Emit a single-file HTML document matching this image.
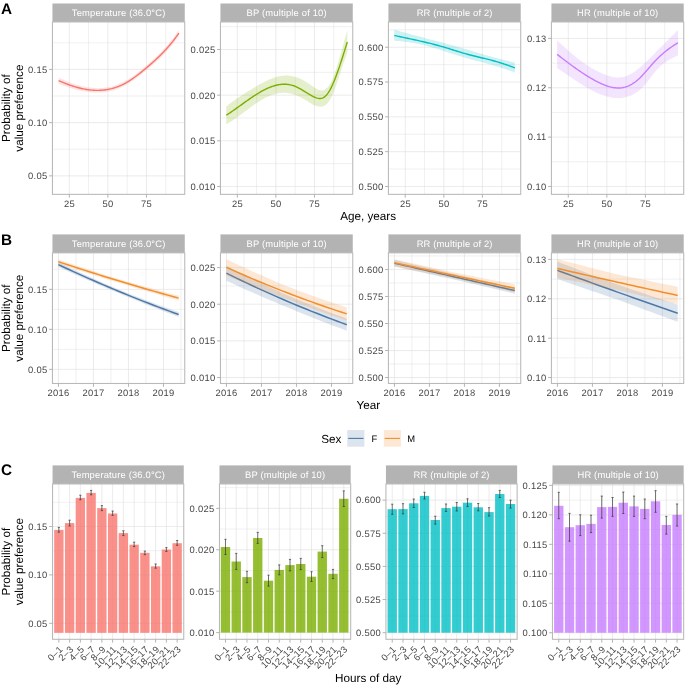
<!DOCTYPE html>
<html><head><meta charset="utf-8"><title>Figure</title>
<style>html,body{margin:0;padding:0;background:#fff;}svg{display:block;}#w{will-change:transform;width:685px;height:686px;}text{font-family:"Liberation Sans",sans-serif;}</style>
</head><body><div id="w">
<svg width="685" height="686" viewBox="0 0 685 686" font-family="Liberation Sans, sans-serif" text-rendering="geometricPrecision">
<rect width="685" height="686" fill="#fff"/>
<rect x="52.45" y="3.5" width="132.3" height="18.45" fill="#b3b3b3"/>
<text x="118.69" y="16" font-size="9.4" fill="#fff" text-anchor="middle" letter-spacing="0.17">Temperature (36.0°C)</text>
<clipPath id="cA0"><rect x="52.45" y="21.95" width="132.3" height="172.39"/></clipPath>
<g clip-path="url(#cA0)">
<line x1="52.45" y1="149.25" x2="184.75" y2="149.25" stroke="#dedede" stroke-width="0.45"/>
<line x1="52.45" y1="96.02" x2="184.75" y2="96.02" stroke="#dedede" stroke-width="0.45"/>
<line x1="52.45" y1="42.79" x2="184.75" y2="42.79" stroke="#dedede" stroke-width="0.45"/>
<line x1="88.59" y1="21.95" x2="88.59" y2="194.34" stroke="#dedede" stroke-width="0.45"/>
<line x1="127.16" y1="21.95" x2="127.16" y2="194.34" stroke="#dedede" stroke-width="0.45"/>
<line x1="165.74" y1="21.95" x2="165.74" y2="194.34" stroke="#dedede" stroke-width="0.45"/>
<line x1="52.45" y1="175.86" x2="184.75" y2="175.86" stroke="#dedede" stroke-width="0.62"/>
<line x1="52.45" y1="122.63" x2="184.75" y2="122.63" stroke="#dedede" stroke-width="0.62"/>
<line x1="52.45" y1="69.4" x2="184.75" y2="69.4" stroke="#dedede" stroke-width="0.62"/>
<line x1="69.3" y1="21.95" x2="69.3" y2="194.34" stroke="#dedede" stroke-width="0.62"/>
<line x1="107.88" y1="21.95" x2="107.88" y2="194.34" stroke="#dedede" stroke-width="0.62"/>
<line x1="146.45" y1="21.95" x2="146.45" y2="194.34" stroke="#dedede" stroke-width="0.62"/>
<path d="M58.6,77.5L59.6,77.97L60.6,78.44L61.6,78.9L62.6,79.35L63.6,79.79L64.6,80.23L65.6,80.66L66.6,81.08L67.6,81.49L68.6,81.89L69.6,82.29L70.6,82.67L71.6,83.05L72.6,83.41L73.6,83.77L74.6,84.11L75.6,84.43L76.6,84.73L77.6,85.02L78.6,85.3L79.6,85.57L80.6,85.82L81.6,86.06L82.6,86.3L83.6,86.51L84.6,86.72L85.6,86.91L86.6,87.09L87.6,87.26L88.6,87.41L89.6,87.55L90.6,87.67L91.6,87.78L92.6,87.88L93.6,87.96L94.6,88.02L95.6,88.07L96.6,88.11L97.6,88.13L98.6,88.13L99.6,88.11L100.6,88.07L101.6,88.01L102.6,87.94L103.6,87.84L104.6,87.73L105.6,87.6L106.6,87.45L107.6,87.28L108.6,87.1L109.6,86.89L110.6,86.67L111.6,86.43L112.6,86.16L113.6,85.88L114.6,85.58L115.6,85.25L116.6,84.91L117.6,84.54L118.6,84.16L119.6,83.75L120.6,83.32L121.6,82.87L122.6,82.39L123.6,81.9L124.6,81.38L125.6,80.84L126.6,80.27L127.6,79.69L128.6,79.08L129.6,78.45L130.6,77.8L131.6,77.14L132.6,76.46L133.6,75.76L134.6,75.04L135.6,74.31L136.6,73.56L137.6,72.81L138.6,72.03L139.6,71.25L140.6,70.45L141.6,69.62L142.6,68.79L143.6,67.95L144.6,67.11L145.6,66.25L146.6,65.39L147.6,64.52L148.6,63.65L149.6,62.77L150.6,61.88L151.6,60.99L152.6,60.08L153.6,59.16L154.6,58.24L155.6,57.3L156.6,56.36L157.6,55.4L158.6,54.42L159.6,53.44L160.6,52.43L161.6,51.42L162.6,50.38L163.6,49.33L164.6,48.25L165.6,47.15L166.6,46.03L167.6,44.88L168.6,43.71L169.6,42.51L170.6,41.29L171.6,40.04L172.6,38.76L173.6,37.46L174.6,36.13L175.6,34.76L176.6,33.37L177.6,31.94L178.6,30.48L178.9,30.04L178.9,36.04L178.6,36.47L177.6,37.87L176.6,39.24L175.6,40.57L174.6,41.88L173.6,43.15L172.6,44.4L171.6,45.62L170.6,46.81L169.6,47.97L168.6,49.11L167.6,50.23L166.6,51.32L165.6,52.39L164.6,53.44L163.6,54.48L162.6,55.5L161.6,56.51L160.6,57.49L159.6,58.46L158.6,59.42L157.6,60.36L156.6,61.29L155.6,62.2L154.6,63.11L153.6,64L152.6,64.88L151.6,65.76L150.6,66.62L149.6,67.48L148.6,68.33L147.6,69.17L146.6,70L145.6,70.83L144.6,71.65L143.6,72.47L142.6,73.28L141.6,74.08L140.6,74.86L139.6,75.65L138.6,76.43L137.6,77.21L136.6,77.96L135.6,78.71L134.6,79.44L133.6,80.16L132.6,80.86L131.6,81.54L130.6,82.2L129.6,82.85L128.6,83.48L127.6,84.09L126.6,84.67L125.6,85.24L124.6,85.78L123.6,86.3L122.6,86.79L121.6,87.27L120.6,87.72L119.6,88.15L118.6,88.56L117.6,88.94L116.6,89.31L115.6,89.65L114.6,89.98L113.6,90.28L112.6,90.56L111.6,90.83L110.6,91.07L109.6,91.29L108.6,91.5L107.6,91.68L106.6,91.85L105.6,92L104.6,92.13L103.6,92.24L102.6,92.34L101.6,92.41L100.6,92.47L99.6,92.52L98.6,92.56L97.6,92.58L96.6,92.59L95.6,92.58L94.6,92.55L93.6,92.51L92.6,92.46L91.6,92.38L90.6,92.3L89.6,92.2L88.6,92.08L87.6,91.96L86.6,91.81L85.6,91.66L84.6,91.49L83.6,91.31L82.6,91.11L81.6,90.91L80.6,90.69L79.6,90.46L78.6,90.21L77.6,89.96L76.6,89.69L75.6,89.42L74.6,89.14L73.6,88.87L72.6,88.59L71.6,88.29L70.6,87.99L69.6,87.68L68.6,87.36L67.6,87.03L66.6,86.69L65.6,86.34L64.6,85.99L63.6,85.63L62.6,85.26L61.6,84.88L60.6,84.49L59.6,84.1L58.6,83.7Z" fill="#F8766D" fill-opacity="0.2"/>
<path d="M58.6,80.6L59.6,81.04L60.6,81.47L61.6,81.89L62.6,82.3L63.6,82.71L64.6,83.11L65.6,83.5L66.6,83.88L67.6,84.26L68.6,84.63L69.6,84.98L70.6,85.33L71.6,85.67L72.6,86L73.6,86.32L74.6,86.63L75.6,86.93L76.6,87.21L77.6,87.49L78.6,87.76L79.6,88.01L80.6,88.25L81.6,88.49L82.6,88.7L83.6,88.91L84.6,89.1L85.6,89.28L86.6,89.45L87.6,89.61L88.6,89.75L89.6,89.87L90.6,89.99L91.6,90.08L92.6,90.17L93.6,90.24L94.6,90.29L95.6,90.33L96.6,90.35L97.6,90.35L98.6,90.34L99.6,90.32L100.6,90.27L101.6,90.21L102.6,90.14L103.6,90.04L104.6,89.93L105.6,89.8L106.6,89.65L107.6,89.48L108.6,89.3L109.6,89.09L110.6,88.87L111.6,88.63L112.6,88.36L113.6,88.08L114.6,87.78L115.6,87.45L116.6,87.11L117.6,86.74L118.6,86.36L119.6,85.95L120.6,85.52L121.6,85.07L122.6,84.59L123.6,84.1L124.6,83.58L125.6,83.04L126.6,82.47L127.6,81.89L128.6,81.28L129.6,80.65L130.6,80L131.6,79.34L132.6,78.66L133.6,77.96L134.6,77.24L135.6,76.51L136.6,75.76L137.6,75.01L138.6,74.23L139.6,73.45L140.6,72.65L141.6,71.85L142.6,71.03L143.6,70.21L144.6,69.38L145.6,68.54L146.6,67.7L147.6,66.85L148.6,65.99L149.6,65.12L150.6,64.25L151.6,63.37L152.6,62.48L153.6,61.58L154.6,60.67L155.6,59.75L156.6,58.82L157.6,57.88L158.6,56.92L159.6,55.95L160.6,54.96L161.6,53.96L162.6,52.94L163.6,51.91L164.6,50.85L165.6,49.77L166.6,48.67L167.6,47.55L168.6,46.41L169.6,45.24L170.6,44.05L171.6,42.83L172.6,41.58L173.6,40.31L174.6,39L175.6,37.67L176.6,36.3L177.6,34.91L178.6,33.48L178.9,33.04" fill="none" stroke="#F8766D" stroke-width="1.4" stroke-linejoin="round"/>
</g>
<rect x="52.45" y="21.95" width="132.3" height="172.39" fill="none" stroke="#b9b9b9" stroke-width="1.07"/>
<line x1="49.15" y1="175.86" x2="52.45" y2="175.86" stroke="#b3b3b3" stroke-width="1.0"/>
<text x="47.51" y="179.21" font-size="9.4" fill="#464646" text-anchor="end" letter-spacing="0.3">0.05</text>
<line x1="49.15" y1="122.63" x2="52.45" y2="122.63" stroke="#b3b3b3" stroke-width="1.0"/>
<text x="47.51" y="125.98" font-size="9.4" fill="#464646" text-anchor="end" letter-spacing="0.3">0.10</text>
<line x1="49.15" y1="69.4" x2="52.45" y2="69.4" stroke="#b3b3b3" stroke-width="1.0"/>
<text x="47.51" y="72.75" font-size="9.4" fill="#464646" text-anchor="end" letter-spacing="0.3">0.15</text>
<line x1="69.3" y1="194.34" x2="69.3" y2="197.64" stroke="#b3b3b3" stroke-width="1.0"/>
<text x="69.45" y="206.64" font-size="9.4" fill="#464646" text-anchor="middle" letter-spacing="0.3">25</text>
<line x1="107.88" y1="194.34" x2="107.88" y2="197.64" stroke="#b3b3b3" stroke-width="1.0"/>
<text x="108.03" y="206.64" font-size="9.4" fill="#464646" text-anchor="middle" letter-spacing="0.3">50</text>
<line x1="146.45" y1="194.34" x2="146.45" y2="197.64" stroke="#b3b3b3" stroke-width="1.0"/>
<text x="146.6" y="206.64" font-size="9.4" fill="#464646" text-anchor="middle" letter-spacing="0.3">75</text>
<rect x="220.45" y="3.5" width="132.3" height="18.45" fill="#b3b3b3"/>
<text x="286.69" y="16" font-size="9.4" fill="#fff" text-anchor="middle" letter-spacing="0.17">BP (multiple of 10)</text>
<clipPath id="cA1"><rect x="220.45" y="21.95" width="132.3" height="172.39"/></clipPath>
<g clip-path="url(#cA1)">
<line x1="220.45" y1="163.64" x2="352.75" y2="163.64" stroke="#dedede" stroke-width="0.45"/>
<line x1="220.45" y1="117.98" x2="352.75" y2="117.98" stroke="#dedede" stroke-width="0.45"/>
<line x1="220.45" y1="72.32" x2="352.75" y2="72.32" stroke="#dedede" stroke-width="0.45"/>
<line x1="220.45" y1="26.66" x2="352.75" y2="26.66" stroke="#dedede" stroke-width="0.45"/>
<line x1="256.59" y1="21.95" x2="256.59" y2="194.34" stroke="#dedede" stroke-width="0.45"/>
<line x1="295.16" y1="21.95" x2="295.16" y2="194.34" stroke="#dedede" stroke-width="0.45"/>
<line x1="333.74" y1="21.95" x2="333.74" y2="194.34" stroke="#dedede" stroke-width="0.45"/>
<line x1="220.45" y1="186.47" x2="352.75" y2="186.47" stroke="#dedede" stroke-width="0.62"/>
<line x1="220.45" y1="140.81" x2="352.75" y2="140.81" stroke="#dedede" stroke-width="0.62"/>
<line x1="220.45" y1="95.15" x2="352.75" y2="95.15" stroke="#dedede" stroke-width="0.62"/>
<line x1="220.45" y1="49.49" x2="352.75" y2="49.49" stroke="#dedede" stroke-width="0.62"/>
<line x1="237.3" y1="21.95" x2="237.3" y2="194.34" stroke="#dedede" stroke-width="0.62"/>
<line x1="275.88" y1="21.95" x2="275.88" y2="194.34" stroke="#dedede" stroke-width="0.62"/>
<line x1="314.45" y1="21.95" x2="314.45" y2="194.34" stroke="#dedede" stroke-width="0.62"/>
<path d="M226.3,106.41L227.3,105.63L228.3,104.86L229.3,104.1L230.3,103.35L231.3,102.6L232.3,101.87L233.3,101.14L234.3,100.42L235.3,99.71L236.3,99L237.3,98.31L238.3,97.62L239.3,96.94L240.3,96.26L241.3,95.59L242.3,94.93L243.3,94.28L244.3,93.63L245.3,92.99L246.3,92.36L247.3,91.73L248.3,91.1L249.3,90.49L250.3,89.88L251.3,89.27L252.3,88.67L253.3,88.07L254.3,87.48L255.3,86.9L256.3,86.32L257.3,85.74L258.3,85.17L259.3,84.61L260.3,84.05L261.3,83.51L262.3,82.97L263.3,82.44L264.3,81.92L265.3,81.42L266.3,80.93L267.3,80.45L268.3,79.99L269.3,79.55L270.3,79.12L271.3,78.71L272.3,78.32L273.3,77.96L274.3,77.61L275.3,77.29L276.3,76.99L277.3,76.72L278.3,76.47L279.3,76.25L280.3,76.05L281.3,75.89L282.3,75.76L283.3,75.65L284.3,75.58L285.3,75.54L286.3,75.54L287.3,75.56L288.3,75.62L289.3,75.71L290.3,75.83L291.3,75.99L292.3,76.17L293.3,76.39L294.3,76.64L295.3,76.92L296.3,77.23L297.3,77.57L298.3,77.95L299.3,78.36L300.3,78.8L301.3,79.27L302.3,79.77L303.3,80.3L304.3,80.87L305.3,81.46L306.3,82.09L307.3,82.74L308.3,83.4L309.3,84.08L310.3,84.76L311.3,85.44L312.3,86.12L313.3,86.79L314.3,87.45L315.3,88.08L316.3,88.67L317.3,89.21L318.3,89.68L319.3,90.05L320.3,90.31L321.3,90.44L322.3,90.42L323.3,90.24L324.3,89.89L325.3,89.35L326.3,88.62L327.3,87.67L328.3,86.51L329.3,85.11L330.3,83.46L331.3,81.55L332.3,79.39L333.3,76.99L334.3,74.38L335.3,71.56L336.3,68.58L337.3,65.44L338.3,62.16L339.3,58.78L340.3,55.3L341.3,51.75L342.3,48.14L343.3,44.51L344.3,40.87L345.3,37.24L346.3,33.64L347.3,30.09L347.3,53.18L346.3,55.62L345.3,58.23L344.3,60.99L343.3,63.87L342.3,66.85L341.3,69.89L340.3,72.96L339.3,76.04L338.3,79.1L337.3,82.11L336.3,85.04L335.3,87.86L334.3,90.55L333.3,93.07L332.3,95.39L331.3,97.5L330.3,99.35L329.3,100.96L328.3,102.32L327.3,103.47L326.3,104.41L325.3,105.16L324.3,105.74L323.3,106.16L322.3,106.45L321.3,106.6L320.3,106.65L319.3,106.6L318.3,106.46L317.3,106.24L316.3,105.94L315.3,105.57L314.3,105.14L313.3,104.66L312.3,104.14L311.3,103.58L310.3,102.99L309.3,102.38L308.3,101.75L307.3,101.12L306.3,100.5L305.3,99.88L304.3,99.28L303.3,98.71L302.3,98.15L301.3,97.62L300.3,97.12L299.3,96.64L298.3,96.19L297.3,95.76L296.3,95.36L295.3,94.98L294.3,94.64L293.3,94.32L292.3,94.03L291.3,93.77L290.3,93.54L289.3,93.34L288.3,93.17L287.3,93.03L286.3,92.93L285.3,92.86L284.3,92.82L283.3,92.81L282.3,92.84L281.3,92.9L280.3,92.99L279.3,93.12L278.3,93.28L277.3,93.47L276.3,93.68L275.3,93.93L274.3,94.21L273.3,94.51L272.3,94.84L271.3,95.2L270.3,95.58L269.3,95.98L268.3,96.42L267.3,96.87L266.3,97.35L265.3,97.85L264.3,98.37L263.3,98.91L262.3,99.47L261.3,100.05L260.3,100.65L259.3,101.26L258.3,101.9L257.3,102.55L256.3,103.21L255.3,103.89L254.3,104.58L253.3,105.29L252.3,106.01L251.3,106.73L250.3,107.46L249.3,108.21L248.3,108.95L247.3,109.7L246.3,110.46L245.3,111.22L244.3,111.97L243.3,112.73L242.3,113.49L241.3,114.24L240.3,114.99L239.3,115.73L238.3,116.47L237.3,117.19L236.3,117.91L235.3,118.62L234.3,119.32L233.3,120L232.3,120.67L231.3,121.32L230.3,121.96L229.3,122.58L228.3,123.18L227.3,123.76L226.3,124.31Z" fill="#7CAE00" fill-opacity="0.2"/>
<path d="M226.3,115.23L227.3,114.58L228.3,113.93L229.3,113.26L230.3,112.59L231.3,111.91L232.3,111.22L233.3,110.52L234.3,109.82L235.3,109.11L236.3,108.4L237.3,107.69L238.3,106.97L239.3,106.25L240.3,105.53L241.3,104.81L242.3,104.09L243.3,103.37L244.3,102.66L245.3,101.94L246.3,101.23L247.3,100.52L248.3,99.82L249.3,99.12L250.3,98.43L251.3,97.75L252.3,97.07L253.3,96.41L254.3,95.75L255.3,95.1L256.3,94.47L257.3,93.84L258.3,93.23L259.3,92.63L260.3,92.05L261.3,91.48L262.3,90.93L263.3,90.39L264.3,89.87L265.3,89.37L266.3,88.88L267.3,88.42L268.3,87.98L269.3,87.55L270.3,87.15L271.3,86.77L272.3,86.42L273.3,86.08L274.3,85.78L275.3,85.49L276.3,85.24L277.3,85.01L278.3,84.81L279.3,84.64L280.3,84.5L281.3,84.38L282.3,84.3L283.3,84.25L284.3,84.23L285.3,84.25L286.3,84.3L287.3,84.38L288.3,84.5L289.3,84.66L290.3,84.85L291.3,85.08L292.3,85.35L293.3,85.66L294.3,86L295.3,86.39L296.3,86.82L297.3,87.29L298.3,87.79L299.3,88.32L300.3,88.88L301.3,89.46L302.3,90.06L303.3,90.67L304.3,91.28L305.3,91.91L306.3,92.53L307.3,93.15L308.3,93.75L309.3,94.35L310.3,94.93L311.3,95.49L312.3,96.02L313.3,96.53L314.3,97L315.3,97.43L316.3,97.81L317.3,98.12L318.3,98.35L319.3,98.48L320.3,98.5L321.3,98.39L322.3,98.12L323.3,97.7L324.3,97.1L325.3,96.31L326.3,95.31L327.3,94.1L328.3,92.69L329.3,91.1L330.3,89.33L331.3,87.39L332.3,85.3L333.3,83.06L334.3,80.69L335.3,78.18L336.3,75.56L337.3,72.84L338.3,70.01L339.3,67.11L340.3,64.12L341.3,61.07L342.3,57.96L343.3,54.81L344.3,51.62L345.3,48.4L346.3,45.17L347.3,41.93" fill="none" stroke="#7CAE00" stroke-width="1.4" stroke-linejoin="round"/>
</g>
<rect x="220.45" y="21.95" width="132.3" height="172.39" fill="none" stroke="#b9b9b9" stroke-width="1.07"/>
<line x1="217.15" y1="186.47" x2="220.45" y2="186.47" stroke="#b3b3b3" stroke-width="1.0"/>
<text x="215.51" y="189.82" font-size="9.4" fill="#464646" text-anchor="end" letter-spacing="0.3">0.010</text>
<line x1="217.15" y1="140.81" x2="220.45" y2="140.81" stroke="#b3b3b3" stroke-width="1.0"/>
<text x="215.51" y="144.16" font-size="9.4" fill="#464646" text-anchor="end" letter-spacing="0.3">0.015</text>
<line x1="217.15" y1="95.15" x2="220.45" y2="95.15" stroke="#b3b3b3" stroke-width="1.0"/>
<text x="215.51" y="98.5" font-size="9.4" fill="#464646" text-anchor="end" letter-spacing="0.3">0.020</text>
<line x1="217.15" y1="49.49" x2="220.45" y2="49.49" stroke="#b3b3b3" stroke-width="1.0"/>
<text x="215.51" y="52.84" font-size="9.4" fill="#464646" text-anchor="end" letter-spacing="0.3">0.025</text>
<line x1="237.3" y1="194.34" x2="237.3" y2="197.64" stroke="#b3b3b3" stroke-width="1.0"/>
<text x="237.45" y="206.64" font-size="9.4" fill="#464646" text-anchor="middle" letter-spacing="0.3">25</text>
<line x1="275.88" y1="194.34" x2="275.88" y2="197.64" stroke="#b3b3b3" stroke-width="1.0"/>
<text x="276.02" y="206.64" font-size="9.4" fill="#464646" text-anchor="middle" letter-spacing="0.3">50</text>
<line x1="314.45" y1="194.34" x2="314.45" y2="197.64" stroke="#b3b3b3" stroke-width="1.0"/>
<text x="314.6" y="206.64" font-size="9.4" fill="#464646" text-anchor="middle" letter-spacing="0.3">75</text>
<rect x="388.42" y="3.5" width="132.3" height="18.45" fill="#b3b3b3"/>
<text x="454.66" y="16" font-size="9.4" fill="#fff" text-anchor="middle" letter-spacing="0.17">RR (multiple of 2)</text>
<clipPath id="cA2"><rect x="388.42" y="21.95" width="132.3" height="172.39"/></clipPath>
<g clip-path="url(#cA2)">
<line x1="388.42" y1="169.06" x2="520.72" y2="169.06" stroke="#dedede" stroke-width="0.45"/>
<line x1="388.42" y1="134.25" x2="520.72" y2="134.25" stroke="#dedede" stroke-width="0.45"/>
<line x1="388.42" y1="99.44" x2="520.72" y2="99.44" stroke="#dedede" stroke-width="0.45"/>
<line x1="388.42" y1="64.63" x2="520.72" y2="64.63" stroke="#dedede" stroke-width="0.45"/>
<line x1="388.42" y1="29.81" x2="520.72" y2="29.81" stroke="#dedede" stroke-width="0.45"/>
<line x1="424.56" y1="21.95" x2="424.56" y2="194.34" stroke="#dedede" stroke-width="0.45"/>
<line x1="463.13" y1="21.95" x2="463.13" y2="194.34" stroke="#dedede" stroke-width="0.45"/>
<line x1="501.71" y1="21.95" x2="501.71" y2="194.34" stroke="#dedede" stroke-width="0.45"/>
<line x1="388.42" y1="186.47" x2="520.72" y2="186.47" stroke="#dedede" stroke-width="0.62"/>
<line x1="388.42" y1="151.66" x2="520.72" y2="151.66" stroke="#dedede" stroke-width="0.62"/>
<line x1="388.42" y1="116.84" x2="520.72" y2="116.84" stroke="#dedede" stroke-width="0.62"/>
<line x1="388.42" y1="82.03" x2="520.72" y2="82.03" stroke="#dedede" stroke-width="0.62"/>
<line x1="388.42" y1="47.22" x2="520.72" y2="47.22" stroke="#dedede" stroke-width="0.62"/>
<line x1="405.27" y1="21.95" x2="405.27" y2="194.34" stroke="#dedede" stroke-width="0.62"/>
<line x1="443.85" y1="21.95" x2="443.85" y2="194.34" stroke="#dedede" stroke-width="0.62"/>
<line x1="482.42" y1="21.95" x2="482.42" y2="194.34" stroke="#dedede" stroke-width="0.62"/>
<path d="M394.3,29.77L395.3,30.04L396.3,30.31L397.3,30.58L398.3,30.85L399.3,31.12L400.3,31.39L401.3,31.67L402.3,31.94L403.3,32.21L404.3,32.48L405.3,32.75L406.3,33.03L407.3,33.3L408.3,33.57L409.3,33.84L410.3,34.12L411.3,34.39L412.3,34.66L413.3,34.93L414.3,35.2L415.3,35.47L416.3,35.74L417.3,36.01L418.3,36.28L419.3,36.55L420.3,36.81L421.3,37.08L422.3,37.34L423.3,37.61L424.3,37.87L425.3,38.14L426.3,38.4L427.3,38.66L428.3,38.92L429.3,39.18L430.3,39.44L431.3,39.7L432.3,39.96L433.3,40.22L434.3,40.48L435.3,40.74L436.3,41L437.3,41.26L438.3,41.52L439.3,41.78L440.3,42.04L441.3,42.3L442.3,42.56L443.3,42.83L444.3,43.09L445.3,43.36L446.3,43.63L447.3,43.9L448.3,44.17L449.3,44.44L450.3,44.72L451.3,45L452.3,45.28L453.3,45.56L454.3,45.84L455.3,46.12L456.3,46.41L457.3,46.69L458.3,46.98L459.3,47.27L460.3,47.56L461.3,47.85L462.3,48.15L463.3,48.44L464.3,48.73L465.3,49.03L466.3,49.32L467.3,49.62L468.3,49.91L469.3,50.21L470.3,50.51L471.3,50.8L472.3,51.1L473.3,51.4L474.3,51.7L475.3,51.99L476.3,52.29L477.3,52.58L478.3,52.88L479.3,53.18L480.3,53.47L481.3,53.76L482.3,54.06L483.3,54.35L484.3,54.64L485.3,54.93L486.3,55.22L487.3,55.51L488.3,55.79L489.3,56.08L490.3,56.36L491.3,56.64L492.3,56.92L493.3,57.2L494.3,57.48L495.3,57.75L496.3,58.02L497.3,58.29L498.3,58.56L499.3,58.83L500.3,59.09L501.3,59.35L502.3,59.61L503.3,59.86L504.3,60.12L505.3,60.37L506.3,60.61L507.3,60.86L508.3,61.1L509.3,61.34L510.3,61.57L511.3,61.8L512.3,62.03L513.3,62.25L514.3,62.47L514.9,62.6L514.9,72.66L514.3,72.41L513.3,72.01L512.3,71.62L511.3,71.24L510.3,70.86L509.3,70.49L508.3,70.13L507.3,69.77L506.3,69.42L505.3,69.08L504.3,68.74L503.3,68.41L502.3,68.08L501.3,67.76L500.3,67.44L499.3,67.13L498.3,66.83L497.3,66.52L496.3,66.22L495.3,65.93L494.3,65.64L493.3,65.35L492.3,65.07L491.3,64.78L490.3,64.51L489.3,64.23L488.3,63.96L487.3,63.68L486.3,63.41L485.3,63.14L484.3,62.88L483.3,62.61L482.3,62.35L481.3,62.08L480.3,61.82L479.3,61.55L478.3,61.29L477.3,61.02L476.3,60.76L475.3,60.49L474.3,60.23L473.3,59.96L472.3,59.69L471.3,59.42L470.3,59.14L469.3,58.87L468.3,58.59L467.3,58.31L466.3,58.03L465.3,57.74L464.3,57.45L463.3,57.16L462.3,56.86L461.3,56.56L460.3,56.26L459.3,55.95L458.3,55.64L457.3,55.33L456.3,55.01L455.3,54.7L454.3,54.38L453.3,54.06L452.3,53.74L451.3,53.42L450.3,53.1L449.3,52.77L448.3,52.45L447.3,52.13L446.3,51.81L445.3,51.48L444.3,51.16L443.3,50.84L442.3,50.52L441.3,50.21L440.3,49.89L439.3,49.58L438.3,49.27L437.3,48.96L436.3,48.66L435.3,48.35L434.3,48.06L433.3,47.76L432.3,47.47L431.3,47.18L430.3,46.9L429.3,46.62L428.3,46.35L427.3,46.08L426.3,45.82L425.3,45.57L424.3,45.32L423.3,45.07L422.3,44.83L421.3,44.6L420.3,44.38L419.3,44.16L418.3,43.95L417.3,43.74L416.3,43.54L415.3,43.35L414.3,43.16L413.3,42.98L412.3,42.8L411.3,42.63L410.3,42.47L409.3,42.32L408.3,42.17L407.3,42.03L406.3,41.89L405.3,41.76L404.3,41.64L403.3,41.52L402.3,41.41L401.3,41.31L400.3,41.21L399.3,41.12L398.3,41.04L397.3,40.97L396.3,40.9L395.3,40.83L394.3,40.78Z" fill="#00BFC4" fill-opacity="0.2"/>
<path d="M394.3,35.45L395.3,35.67L396.3,35.89L397.3,36.11L398.3,36.33L399.3,36.54L400.3,36.76L401.3,36.97L402.3,37.18L403.3,37.4L404.3,37.61L405.3,37.82L406.3,38.04L407.3,38.25L408.3,38.46L409.3,38.68L410.3,38.89L411.3,39.11L412.3,39.32L413.3,39.54L414.3,39.76L415.3,39.97L416.3,40.19L417.3,40.41L418.3,40.63L419.3,40.86L420.3,41.08L421.3,41.31L422.3,41.54L423.3,41.77L424.3,42L425.3,42.23L426.3,42.47L427.3,42.71L428.3,42.95L429.3,43.19L430.3,43.44L431.3,43.69L432.3,43.94L433.3,44.2L434.3,44.45L435.3,44.72L436.3,44.98L437.3,45.25L438.3,45.52L439.3,45.8L440.3,46.08L441.3,46.36L442.3,46.65L443.3,46.94L444.3,47.23L445.3,47.53L446.3,47.84L447.3,48.14L448.3,48.45L449.3,48.77L450.3,49.08L451.3,49.39L452.3,49.71L453.3,50.03L454.3,50.34L455.3,50.66L456.3,50.97L457.3,51.28L458.3,51.59L459.3,51.9L460.3,52.2L461.3,52.5L462.3,52.8L463.3,53.09L464.3,53.38L465.3,53.66L466.3,53.94L467.3,54.21L468.3,54.48L469.3,54.74L470.3,55L471.3,55.26L472.3,55.52L473.3,55.77L474.3,56.02L475.3,56.26L476.3,56.51L477.3,56.75L478.3,57L479.3,57.24L480.3,57.48L481.3,57.72L482.3,57.96L483.3,58.2L484.3,58.44L485.3,58.69L486.3,58.93L487.3,59.18L488.3,59.42L489.3,59.68L490.3,59.93L491.3,60.19L492.3,60.46L493.3,60.72L494.3,61L495.3,61.28L496.3,61.57L497.3,61.86L498.3,62.16L499.3,62.46L500.3,62.77L501.3,63.08L502.3,63.4L503.3,63.73L504.3,64.06L505.3,64.4L506.3,64.74L507.3,65.09L508.3,65.45L509.3,65.81L510.3,66.18L511.3,66.55L512.3,66.93L513.3,67.31L514.3,67.71L514.9,67.94" fill="none" stroke="#00BFC4" stroke-width="1.4" stroke-linejoin="round"/>
</g>
<rect x="388.42" y="21.95" width="132.3" height="172.39" fill="none" stroke="#b9b9b9" stroke-width="1.07"/>
<line x1="385.12" y1="186.47" x2="388.42" y2="186.47" stroke="#b3b3b3" stroke-width="1.0"/>
<text x="383.48" y="189.82" font-size="9.4" fill="#464646" text-anchor="end" letter-spacing="0.3">0.500</text>
<line x1="385.12" y1="151.66" x2="388.42" y2="151.66" stroke="#b3b3b3" stroke-width="1.0"/>
<text x="383.48" y="155.01" font-size="9.4" fill="#464646" text-anchor="end" letter-spacing="0.3">0.525</text>
<line x1="385.12" y1="116.84" x2="388.42" y2="116.84" stroke="#b3b3b3" stroke-width="1.0"/>
<text x="383.48" y="120.19" font-size="9.4" fill="#464646" text-anchor="end" letter-spacing="0.3">0.550</text>
<line x1="385.12" y1="82.03" x2="388.42" y2="82.03" stroke="#b3b3b3" stroke-width="1.0"/>
<text x="383.48" y="85.38" font-size="9.4" fill="#464646" text-anchor="end" letter-spacing="0.3">0.575</text>
<line x1="385.12" y1="47.22" x2="388.42" y2="47.22" stroke="#b3b3b3" stroke-width="1.0"/>
<text x="383.48" y="50.57" font-size="9.4" fill="#464646" text-anchor="end" letter-spacing="0.3">0.600</text>
<line x1="405.27" y1="194.34" x2="405.27" y2="197.64" stroke="#b3b3b3" stroke-width="1.0"/>
<text x="405.42" y="206.64" font-size="9.4" fill="#464646" text-anchor="middle" letter-spacing="0.3">25</text>
<line x1="443.85" y1="194.34" x2="443.85" y2="197.64" stroke="#b3b3b3" stroke-width="1.0"/>
<text x="444" y="206.64" font-size="9.4" fill="#464646" text-anchor="middle" letter-spacing="0.3">50</text>
<line x1="482.42" y1="194.34" x2="482.42" y2="197.64" stroke="#b3b3b3" stroke-width="1.0"/>
<text x="482.57" y="206.64" font-size="9.4" fill="#464646" text-anchor="middle" letter-spacing="0.3">75</text>
<rect x="551.42" y="3.5" width="132.3" height="18.45" fill="#b3b3b3"/>
<text x="617.65" y="16" font-size="9.4" fill="#fff" text-anchor="middle" letter-spacing="0.17">HR (multiple of 10)</text>
<clipPath id="cA3"><rect x="551.42" y="21.95" width="132.3" height="172.39"/></clipPath>
<g clip-path="url(#cA3)">
<line x1="551.42" y1="161.8" x2="683.72" y2="161.8" stroke="#dedede" stroke-width="0.45"/>
<line x1="551.42" y1="112.45" x2="683.72" y2="112.45" stroke="#dedede" stroke-width="0.45"/>
<line x1="551.42" y1="63.1" x2="683.72" y2="63.1" stroke="#dedede" stroke-width="0.45"/>
<line x1="587.56" y1="21.95" x2="587.56" y2="194.34" stroke="#dedede" stroke-width="0.45"/>
<line x1="626.13" y1="21.95" x2="626.13" y2="194.34" stroke="#dedede" stroke-width="0.45"/>
<line x1="664.71" y1="21.95" x2="664.71" y2="194.34" stroke="#dedede" stroke-width="0.45"/>
<line x1="551.42" y1="186.47" x2="683.72" y2="186.47" stroke="#dedede" stroke-width="0.62"/>
<line x1="551.42" y1="137.12" x2="683.72" y2="137.12" stroke="#dedede" stroke-width="0.62"/>
<line x1="551.42" y1="87.77" x2="683.72" y2="87.77" stroke="#dedede" stroke-width="0.62"/>
<line x1="551.42" y1="38.42" x2="683.72" y2="38.42" stroke="#dedede" stroke-width="0.62"/>
<line x1="568.27" y1="21.95" x2="568.27" y2="194.34" stroke="#dedede" stroke-width="0.62"/>
<line x1="606.85" y1="21.95" x2="606.85" y2="194.34" stroke="#dedede" stroke-width="0.62"/>
<line x1="645.42" y1="21.95" x2="645.42" y2="194.34" stroke="#dedede" stroke-width="0.62"/>
<path d="M557.1,40.58L558.1,41.46L559.1,42.35L560.1,43.23L561.1,44.13L562.1,45.02L563.1,45.91L564.1,46.81L565.1,47.7L566.1,48.59L567.1,49.48L568.1,50.36L569.1,51.24L570.1,52.11L571.1,52.97L572.1,53.83L573.1,54.68L574.1,55.51L575.1,56.34L576.1,57.16L577.1,57.96L578.1,58.75L579.1,59.52L580.1,60.28L581.1,61.02L582.1,61.75L583.1,62.47L584.1,63.17L585.1,63.86L586.1,64.53L587.1,65.19L588.1,65.84L589.1,66.47L590.1,67.09L591.1,67.69L592.1,68.28L593.1,68.86L594.1,69.43L595.1,69.98L596.1,70.53L597.1,71.06L598.1,71.57L599.1,72.08L600.1,72.57L601.1,73.04L602.1,73.5L603.1,73.93L604.1,74.35L605.1,74.75L606.1,75.12L607.1,75.47L608.1,75.8L609.1,76.1L610.1,76.37L611.1,76.62L612.1,76.84L613.1,77.02L614.1,77.18L615.1,77.3L616.1,77.38L617.1,77.43L618.1,77.45L619.1,77.42L620.1,77.36L621.1,77.26L622.1,77.11L623.1,76.92L624.1,76.69L625.1,76.41L626.1,76.09L627.1,75.72L628.1,75.3L629.1,74.84L630.1,74.33L631.1,73.79L632.1,73.2L633.1,72.58L634.1,71.92L635.1,71.23L636.1,70.51L637.1,69.75L638.1,68.97L639.1,68.16L640.1,67.32L641.1,66.46L642.1,65.58L643.1,64.68L644.1,63.75L645.1,62.82L646.1,61.86L647.1,60.9L648.1,59.92L649.1,58.93L650.1,57.93L651.1,56.93L652.1,55.92L653.1,54.91L654.1,53.9L655.1,52.88L656.1,51.87L657.1,50.86L658.1,49.84L659.1,48.83L660.1,47.82L661.1,46.8L662.1,45.79L663.1,44.78L664.1,43.77L665.1,42.77L666.1,41.76L667.1,40.76L668.1,39.75L669.1,38.76L670.1,37.76L671.1,36.77L672.1,35.78L673.1,34.79L674.1,33.8L675.1,32.83L676.1,31.85L677.1,30.88L678,30.01L678,55.3L677.1,55.71L676.1,56.17L675.1,56.65L674.1,57.13L673.1,57.64L672.1,58.15L671.1,58.69L670.1,59.25L669.1,59.84L668.1,60.44L667.1,61.08L666.1,61.75L665.1,62.45L664.1,63.18L663.1,63.95L662.1,64.76L661.1,65.61L660.1,66.5L659.1,67.44L658.1,68.42L657.1,69.46L656.1,70.54L655.1,71.68L654.1,72.87L653.1,74.13L652.1,75.43L651.1,76.77L650.1,78.13L649.1,79.49L648.1,80.84L647.1,82.15L646.1,83.42L645.1,84.62L644.1,85.76L643.1,86.83L642.1,87.84L641.1,88.79L640.1,89.68L639.1,90.52L638.1,91.3L637.1,92.02L636.1,92.7L635.1,93.33L634.1,93.91L633.1,94.45L632.1,94.95L631.1,95.4L630.1,95.82L629.1,96.19L628.1,96.53L627.1,96.83L626.1,97.1L625.1,97.33L624.1,97.53L623.1,97.7L622.1,97.83L621.1,97.94L620.1,98.02L619.1,98.06L618.1,98.08L617.1,98.08L616.1,98.04L615.1,97.98L614.1,97.89L613.1,97.78L612.1,97.64L611.1,97.47L610.1,97.29L609.1,97.08L608.1,96.84L607.1,96.59L606.1,96.31L605.1,96.02L604.1,95.7L603.1,95.36L602.1,95L601.1,94.63L600.1,94.24L599.1,93.82L598.1,93.4L597.1,92.95L596.1,92.49L595.1,92.02L594.1,91.53L593.1,91.02L592.1,90.5L591.1,89.97L590.1,89.43L589.1,88.87L588.1,88.31L587.1,87.73L586.1,87.14L585.1,86.54L584.1,85.94L583.1,85.32L582.1,84.7L581.1,84.07L580.1,83.43L579.1,82.79L578.1,82.14L577.1,81.48L576.1,80.83L575.1,80.16L574.1,79.5L573.1,78.83L572.1,78.16L571.1,77.48L570.1,76.81L569.1,76.14L568.1,75.46L567.1,74.79L566.1,74.11L565.1,73.44L564.1,72.78L563.1,72.11L562.1,71.45L561.1,70.79L560.1,70.13L559.1,69.49L558.1,68.84L557.1,68.21Z" fill="#C77CFF" fill-opacity="0.2"/>
<path d="M557.1,54.34L558.1,55.12L559.1,55.9L560.1,56.67L561.1,57.44L562.1,58.21L563.1,58.98L564.1,59.75L565.1,60.51L566.1,61.26L567.1,62.02L568.1,62.77L569.1,63.51L570.1,64.26L571.1,64.99L572.1,65.72L573.1,66.45L574.1,67.17L575.1,67.89L576.1,68.6L577.1,69.3L578.1,70L579.1,70.68L580.1,71.37L581.1,72.04L582.1,72.71L583.1,73.37L584.1,74.02L585.1,74.66L586.1,75.3L587.1,75.92L588.1,76.54L589.1,77.14L590.1,77.74L591.1,78.33L592.1,78.9L593.1,79.47L594.1,80.03L595.1,80.57L596.1,81.1L597.1,81.63L598.1,82.13L599.1,82.63L600.1,83.11L601.1,83.58L602.1,84.03L603.1,84.46L604.1,84.87L605.1,85.27L606.1,85.64L607.1,85.99L608.1,86.31L609.1,86.61L610.1,86.89L611.1,87.13L612.1,87.35L613.1,87.54L614.1,87.7L615.1,87.82L616.1,87.92L617.1,87.98L618.1,88L619.1,87.99L620.1,87.93L621.1,87.84L622.1,87.71L623.1,87.54L624.1,87.33L625.1,87.07L626.1,86.77L627.1,86.42L628.1,86.03L629.1,85.58L630.1,85.1L631.1,84.57L632.1,83.99L633.1,83.36L634.1,82.7L635.1,81.98L636.1,81.22L637.1,80.41L638.1,79.56L639.1,78.66L640.1,77.72L641.1,76.73L642.1,75.7L643.1,74.63L644.1,73.53L645.1,72.4L646.1,71.26L647.1,70.1L648.1,68.93L649.1,67.76L650.1,66.59L651.1,65.43L652.1,64.29L653.1,63.17L654.1,62.07L655.1,61.01L656.1,59.97L657.1,58.95L658.1,57.97L659.1,57.01L660.1,56.07L661.1,55.16L662.1,54.27L663.1,53.41L664.1,52.57L665.1,51.75L666.1,50.95L667.1,50.17L668.1,49.4L669.1,48.66L670.1,47.94L671.1,47.23L672.1,46.54L673.1,45.86L674.1,45.2L675.1,44.56L676.1,43.93L677.1,43.31L678,42.76" fill="none" stroke="#C77CFF" stroke-width="1.4" stroke-linejoin="round"/>
</g>
<rect x="551.42" y="21.95" width="132.3" height="172.39" fill="none" stroke="#b9b9b9" stroke-width="1.07"/>
<line x1="548.12" y1="186.47" x2="551.42" y2="186.47" stroke="#b3b3b3" stroke-width="1.0"/>
<text x="546.48" y="189.82" font-size="9.4" fill="#464646" text-anchor="end" letter-spacing="0.3">0.10</text>
<line x1="548.12" y1="137.12" x2="551.42" y2="137.12" stroke="#b3b3b3" stroke-width="1.0"/>
<text x="546.48" y="140.47" font-size="9.4" fill="#464646" text-anchor="end" letter-spacing="0.3">0.11</text>
<line x1="548.12" y1="87.77" x2="551.42" y2="87.77" stroke="#b3b3b3" stroke-width="1.0"/>
<text x="546.48" y="91.12" font-size="9.4" fill="#464646" text-anchor="end" letter-spacing="0.3">0.12</text>
<line x1="548.12" y1="38.42" x2="551.42" y2="38.42" stroke="#b3b3b3" stroke-width="1.0"/>
<text x="546.48" y="41.77" font-size="9.4" fill="#464646" text-anchor="end" letter-spacing="0.3">0.13</text>
<line x1="568.27" y1="194.34" x2="568.27" y2="197.64" stroke="#b3b3b3" stroke-width="1.0"/>
<text x="568.42" y="206.64" font-size="9.4" fill="#464646" text-anchor="middle" letter-spacing="0.3">25</text>
<line x1="606.85" y1="194.34" x2="606.85" y2="197.64" stroke="#b3b3b3" stroke-width="1.0"/>
<text x="607" y="206.64" font-size="9.4" fill="#464646" text-anchor="middle" letter-spacing="0.3">50</text>
<line x1="645.42" y1="194.34" x2="645.42" y2="197.64" stroke="#b3b3b3" stroke-width="1.0"/>
<text x="645.57" y="206.64" font-size="9.4" fill="#464646" text-anchor="middle" letter-spacing="0.3">75</text>
<rect x="52.45" y="234.4" width="132.3" height="18.45" fill="#b3b3b3"/>
<text x="118.69" y="246.9" font-size="9.4" fill="#fff" text-anchor="middle" letter-spacing="0.17">Temperature (36.0°C)</text>
<clipPath id="cB0"><rect x="52.45" y="252.85" width="132.3" height="130.63"/></clipPath>
<g clip-path="url(#cB0)">
<line x1="52.45" y1="349.35" x2="184.75" y2="349.35" stroke="#dedede" stroke-width="0.45"/>
<line x1="52.45" y1="309.34" x2="184.75" y2="309.34" stroke="#dedede" stroke-width="0.45"/>
<line x1="52.45" y1="269.33" x2="184.75" y2="269.33" stroke="#dedede" stroke-width="0.45"/>
<line x1="75.95" y1="252.85" x2="75.95" y2="383.48" stroke="#dedede" stroke-width="0.45"/>
<line x1="110.95" y1="252.85" x2="110.95" y2="383.48" stroke="#dedede" stroke-width="0.45"/>
<line x1="145.95" y1="252.85" x2="145.95" y2="383.48" stroke="#dedede" stroke-width="0.45"/>
<line x1="180.95" y1="252.85" x2="180.95" y2="383.48" stroke="#dedede" stroke-width="0.45"/>
<line x1="52.45" y1="369.35" x2="184.75" y2="369.35" stroke="#dedede" stroke-width="0.62"/>
<line x1="52.45" y1="329.34" x2="184.75" y2="329.34" stroke="#dedede" stroke-width="0.62"/>
<line x1="52.45" y1="289.33" x2="184.75" y2="289.33" stroke="#dedede" stroke-width="0.62"/>
<line x1="58.45" y1="252.85" x2="58.45" y2="383.48" stroke="#dedede" stroke-width="0.62"/>
<line x1="93.45" y1="252.85" x2="93.45" y2="383.48" stroke="#dedede" stroke-width="0.62"/>
<line x1="128.45" y1="252.85" x2="128.45" y2="383.48" stroke="#dedede" stroke-width="0.62"/>
<line x1="163.45" y1="252.85" x2="163.45" y2="383.48" stroke="#dedede" stroke-width="0.62"/>
<path d="M58.4,262.3L63.41,264.69L68.42,267.06L73.43,269.4L78.44,271.72L83.45,274.01L88.46,276.29L93.47,278.53L98.48,280.76L103.49,282.96L108.5,285.14L113.51,287.3L118.53,289.43L123.54,291.45L128.55,293.44L133.56,295.41L138.57,297.36L143.58,299.28L148.59,301.18L153.6,303.06L158.61,304.92L163.62,306.75L168.63,308.56L173.64,310.34L178.65,312.1L178.65,316.9L173.64,315.04L168.63,313.16L163.62,311.25L158.61,309.32L153.6,307.36L148.59,305.38L143.58,303.38L138.57,301.36L133.56,299.31L128.55,297.24L123.54,295.15L118.53,293.03L113.51,290.98L108.5,288.91L103.49,286.81L98.48,284.69L93.47,282.55L88.46,280.39L83.45,278.2L78.44,275.98L73.43,273.75L68.42,271.49L63.41,269.21L58.4,266.9Z" fill="#4E79A7" fill-opacity="0.2"/>
<path d="M58.4,264.6L63.41,266.95L68.42,269.27L73.43,271.57L78.44,273.85L83.45,276.1L88.46,278.34L93.47,280.54L98.48,282.73L103.49,284.89L108.5,287.02L113.51,289.14L118.53,291.23L123.54,293.3L128.55,295.34L133.56,297.36L138.57,299.36L143.58,301.33L148.59,303.28L153.6,305.21L158.61,307.12L163.62,309L168.63,310.86L173.64,312.69L178.65,314.5" fill="none" stroke="#4E79A7" stroke-width="1.5"/>
<path d="M58.4,259.4L63.41,261.11L68.42,262.8L73.43,264.48L78.44,266.14L83.45,267.8L88.46,269.44L93.47,271.07L98.48,272.68L103.49,274.29L108.5,275.88L113.51,277.46L118.53,279.02L123.54,280.48L128.55,281.93L133.56,283.36L138.57,284.78L143.58,286.19L148.59,287.59L153.6,288.97L158.61,290.34L163.62,291.7L168.63,293.05L173.64,294.38L178.65,295.7L178.65,300.5L173.64,299.08L168.63,297.65L163.62,296.2L158.61,294.74L153.6,293.27L148.59,291.79L143.58,290.29L138.57,288.78L133.56,287.26L128.55,285.73L123.54,284.18L118.53,282.62L113.51,281.14L108.5,279.64L103.49,278.14L98.48,276.62L93.47,275.09L88.46,273.54L83.45,271.98L78.44,270.41L73.43,268.83L68.42,267.23L63.41,265.62L58.4,264Z" fill="#F28E2B" fill-opacity="0.2"/>
<path d="M58.4,261.7L63.41,263.36L68.42,265.01L73.43,266.65L78.44,268.28L83.45,269.89L88.46,271.49L93.47,273.08L98.48,274.65L103.49,276.21L108.5,277.76L113.51,279.3L118.53,280.82L123.54,282.33L128.55,283.83L133.56,285.31L138.57,286.78L143.58,288.24L148.59,289.69L153.6,291.12L158.61,292.54L163.62,293.95L168.63,295.35L173.64,296.73L178.65,298.1" fill="none" stroke="#F28E2B" stroke-width="1.5"/>
</g>
<rect x="52.45" y="252.85" width="132.3" height="130.63" fill="none" stroke="#b9b9b9" stroke-width="1.07"/>
<line x1="49.15" y1="369.35" x2="52.45" y2="369.35" stroke="#b3b3b3" stroke-width="1.0"/>
<text x="47.51" y="372.7" font-size="9.4" fill="#464646" text-anchor="end" letter-spacing="0.3">0.05</text>
<line x1="49.15" y1="329.34" x2="52.45" y2="329.34" stroke="#b3b3b3" stroke-width="1.0"/>
<text x="47.51" y="332.69" font-size="9.4" fill="#464646" text-anchor="end" letter-spacing="0.3">0.10</text>
<line x1="49.15" y1="289.33" x2="52.45" y2="289.33" stroke="#b3b3b3" stroke-width="1.0"/>
<text x="47.51" y="292.68" font-size="9.4" fill="#464646" text-anchor="end" letter-spacing="0.3">0.15</text>
<line x1="58.45" y1="383.48" x2="58.45" y2="386.78" stroke="#b3b3b3" stroke-width="1.0"/>
<text x="58.6" y="395.78" font-size="9.4" fill="#464646" text-anchor="middle" letter-spacing="0.3">2016</text>
<line x1="93.45" y1="383.48" x2="93.45" y2="386.78" stroke="#b3b3b3" stroke-width="1.0"/>
<text x="93.6" y="395.78" font-size="9.4" fill="#464646" text-anchor="middle" letter-spacing="0.3">2017</text>
<line x1="128.45" y1="383.48" x2="128.45" y2="386.78" stroke="#b3b3b3" stroke-width="1.0"/>
<text x="128.6" y="395.78" font-size="9.4" fill="#464646" text-anchor="middle" letter-spacing="0.3">2018</text>
<line x1="163.45" y1="383.48" x2="163.45" y2="386.78" stroke="#b3b3b3" stroke-width="1.0"/>
<text x="163.6" y="395.78" font-size="9.4" fill="#464646" text-anchor="middle" letter-spacing="0.3">2019</text>
<rect x="220.45" y="234.4" width="132.3" height="18.45" fill="#b3b3b3"/>
<text x="286.69" y="246.9" font-size="9.4" fill="#fff" text-anchor="middle" letter-spacing="0.17">BP (multiple of 10)</text>
<clipPath id="cB1"><rect x="220.45" y="252.85" width="132.3" height="130.63"/></clipPath>
<g clip-path="url(#cB1)">
<line x1="220.45" y1="359.21" x2="352.75" y2="359.21" stroke="#dedede" stroke-width="0.45"/>
<line x1="220.45" y1="322.56" x2="352.75" y2="322.56" stroke="#dedede" stroke-width="0.45"/>
<line x1="220.45" y1="285.9" x2="352.75" y2="285.9" stroke="#dedede" stroke-width="0.45"/>
<line x1="243.95" y1="252.85" x2="243.95" y2="383.48" stroke="#dedede" stroke-width="0.45"/>
<line x1="278.95" y1="252.85" x2="278.95" y2="383.48" stroke="#dedede" stroke-width="0.45"/>
<line x1="313.95" y1="252.85" x2="313.95" y2="383.48" stroke="#dedede" stroke-width="0.45"/>
<line x1="348.95" y1="252.85" x2="348.95" y2="383.48" stroke="#dedede" stroke-width="0.45"/>
<line x1="220.45" y1="377.54" x2="352.75" y2="377.54" stroke="#dedede" stroke-width="0.62"/>
<line x1="220.45" y1="340.89" x2="352.75" y2="340.89" stroke="#dedede" stroke-width="0.62"/>
<line x1="220.45" y1="304.23" x2="352.75" y2="304.23" stroke="#dedede" stroke-width="0.62"/>
<line x1="220.45" y1="267.58" x2="352.75" y2="267.58" stroke="#dedede" stroke-width="0.62"/>
<line x1="226.45" y1="252.85" x2="226.45" y2="383.48" stroke="#dedede" stroke-width="0.62"/>
<line x1="261.45" y1="252.85" x2="261.45" y2="383.48" stroke="#dedede" stroke-width="0.62"/>
<line x1="296.45" y1="252.85" x2="296.45" y2="383.48" stroke="#dedede" stroke-width="0.62"/>
<line x1="331.45" y1="252.85" x2="331.45" y2="383.48" stroke="#dedede" stroke-width="0.62"/>
<path d="M226.4,265.7L231.42,268.29L236.43,270.85L241.45,273.39L246.47,275.89L251.48,278.37L256.5,280.82L261.52,283.25L266.53,285.64L271.55,288.01L276.57,290.35L281.58,292.67L286.6,294.95L291.62,297.08L296.63,299.19L301.65,301.26L306.67,303.31L311.68,305.33L316.7,307.32L321.72,309.29L326.73,311.23L331.75,313.14L336.77,315.02L341.78,316.87L346.8,318.7L346.8,330.7L341.78,328.87L336.77,327.02L331.75,325.14L326.73,323.23L321.72,321.29L316.7,319.32L311.68,317.33L306.67,315.31L301.65,313.26L296.63,311.19L291.62,309.08L286.6,306.95L281.58,304.92L276.57,302.85L271.55,300.76L266.53,298.64L261.52,296.5L256.5,294.32L251.48,292.12L246.47,289.89L241.45,287.64L236.43,285.35L231.42,283.04L226.4,280.7Z" fill="#4E79A7" fill-opacity="0.2"/>
<path d="M226.4,273.2L231.42,275.67L236.43,278.1L241.45,280.51L246.47,282.89L251.48,285.25L256.5,287.57L261.52,289.87L266.53,292.14L271.55,294.39L276.57,296.6L281.58,298.79L286.6,300.95L291.62,303.08L296.63,305.19L301.65,307.26L306.67,309.31L311.68,311.33L316.7,313.32L321.72,315.29L326.73,317.23L331.75,319.14L336.77,321.02L341.78,322.87L346.8,324.7" fill="none" stroke="#4E79A7" stroke-width="1.5"/>
<path d="M226.4,259.2L231.42,261.59L236.43,263.95L241.45,266.29L246.47,268.6L251.48,270.88L256.5,273.14L261.52,275.37L266.53,277.58L271.55,279.76L276.57,281.91L281.58,284.04L286.6,286.14L291.62,288.06L296.63,289.95L301.65,291.81L306.67,293.65L311.68,295.46L316.7,297.24L321.72,299L326.73,300.73L331.75,302.44L336.77,304.12L341.78,305.77L346.8,307.4L346.8,320.4L341.78,318.76L336.77,317.09L331.75,315.39L326.73,313.67L321.72,311.92L316.7,310.14L311.68,308.34L306.67,306.51L301.65,304.66L296.63,302.78L291.62,300.87L286.6,298.94L281.58,297.14L276.57,295.31L271.55,293.46L266.53,291.58L261.52,289.67L256.5,287.74L251.48,285.78L246.47,283.8L241.45,281.79L236.43,279.75L231.42,277.69L226.4,275.6Z" fill="#F28E2B" fill-opacity="0.2"/>
<path d="M226.4,267.4L231.42,269.64L236.43,271.85L241.45,274.04L246.47,276.2L251.48,278.33L256.5,280.44L261.52,282.52L266.53,284.58L271.55,286.61L276.57,288.61L281.58,290.59L286.6,292.54L291.62,294.46L296.63,296.36L301.65,298.23L306.67,300.08L311.68,301.9L316.7,303.69L321.72,305.46L326.73,307.2L331.75,308.91L336.77,310.6L341.78,312.26L346.8,313.9" fill="none" stroke="#F28E2B" stroke-width="1.5"/>
</g>
<rect x="220.45" y="252.85" width="132.3" height="130.63" fill="none" stroke="#b9b9b9" stroke-width="1.07"/>
<line x1="217.15" y1="377.54" x2="220.45" y2="377.54" stroke="#b3b3b3" stroke-width="1.0"/>
<text x="215.51" y="380.89" font-size="9.4" fill="#464646" text-anchor="end" letter-spacing="0.3">0.010</text>
<line x1="217.15" y1="340.89" x2="220.45" y2="340.89" stroke="#b3b3b3" stroke-width="1.0"/>
<text x="215.51" y="344.24" font-size="9.4" fill="#464646" text-anchor="end" letter-spacing="0.3">0.015</text>
<line x1="217.15" y1="304.23" x2="220.45" y2="304.23" stroke="#b3b3b3" stroke-width="1.0"/>
<text x="215.51" y="307.58" font-size="9.4" fill="#464646" text-anchor="end" letter-spacing="0.3">0.020</text>
<line x1="217.15" y1="267.58" x2="220.45" y2="267.58" stroke="#b3b3b3" stroke-width="1.0"/>
<text x="215.51" y="270.93" font-size="9.4" fill="#464646" text-anchor="end" letter-spacing="0.3">0.025</text>
<line x1="226.45" y1="383.48" x2="226.45" y2="386.78" stroke="#b3b3b3" stroke-width="1.0"/>
<text x="226.6" y="395.78" font-size="9.4" fill="#464646" text-anchor="middle" letter-spacing="0.3">2016</text>
<line x1="261.45" y1="383.48" x2="261.45" y2="386.78" stroke="#b3b3b3" stroke-width="1.0"/>
<text x="261.6" y="395.78" font-size="9.4" fill="#464646" text-anchor="middle" letter-spacing="0.3">2017</text>
<line x1="296.45" y1="383.48" x2="296.45" y2="386.78" stroke="#b3b3b3" stroke-width="1.0"/>
<text x="296.6" y="395.78" font-size="9.4" fill="#464646" text-anchor="middle" letter-spacing="0.3">2018</text>
<line x1="331.45" y1="383.48" x2="331.45" y2="386.78" stroke="#b3b3b3" stroke-width="1.0"/>
<text x="331.6" y="395.78" font-size="9.4" fill="#464646" text-anchor="middle" letter-spacing="0.3">2019</text>
<rect x="388.42" y="234.4" width="132.3" height="18.45" fill="#b3b3b3"/>
<text x="454.66" y="246.9" font-size="9.4" fill="#fff" text-anchor="middle" letter-spacing="0.17">RR (multiple of 2)</text>
<clipPath id="cB2"><rect x="388.42" y="252.85" width="132.3" height="130.63"/></clipPath>
<g clip-path="url(#cB2)">
<line x1="388.42" y1="364.03" x2="520.72" y2="364.03" stroke="#dedede" stroke-width="0.45"/>
<line x1="388.42" y1="337.01" x2="520.72" y2="337.01" stroke="#dedede" stroke-width="0.45"/>
<line x1="388.42" y1="309.98" x2="520.72" y2="309.98" stroke="#dedede" stroke-width="0.45"/>
<line x1="388.42" y1="282.96" x2="520.72" y2="282.96" stroke="#dedede" stroke-width="0.45"/>
<line x1="388.42" y1="255.94" x2="520.72" y2="255.94" stroke="#dedede" stroke-width="0.45"/>
<line x1="411.92" y1="252.85" x2="411.92" y2="383.48" stroke="#dedede" stroke-width="0.45"/>
<line x1="446.92" y1="252.85" x2="446.92" y2="383.48" stroke="#dedede" stroke-width="0.45"/>
<line x1="481.92" y1="252.85" x2="481.92" y2="383.48" stroke="#dedede" stroke-width="0.45"/>
<line x1="516.92" y1="252.85" x2="516.92" y2="383.48" stroke="#dedede" stroke-width="0.45"/>
<line x1="388.42" y1="377.54" x2="520.72" y2="377.54" stroke="#dedede" stroke-width="0.62"/>
<line x1="388.42" y1="350.52" x2="520.72" y2="350.52" stroke="#dedede" stroke-width="0.62"/>
<line x1="388.42" y1="323.49" x2="520.72" y2="323.49" stroke="#dedede" stroke-width="0.62"/>
<line x1="388.42" y1="296.47" x2="520.72" y2="296.47" stroke="#dedede" stroke-width="0.62"/>
<line x1="388.42" y1="269.45" x2="520.72" y2="269.45" stroke="#dedede" stroke-width="0.62"/>
<line x1="394.42" y1="252.85" x2="394.42" y2="383.48" stroke="#dedede" stroke-width="0.62"/>
<line x1="429.42" y1="252.85" x2="429.42" y2="383.48" stroke="#dedede" stroke-width="0.62"/>
<line x1="464.42" y1="252.85" x2="464.42" y2="383.48" stroke="#dedede" stroke-width="0.62"/>
<line x1="499.42" y1="252.85" x2="499.42" y2="383.48" stroke="#dedede" stroke-width="0.62"/>
<path d="M394.45,259.9L399.46,261.08L404.48,262.27L409.49,263.45L414.51,264.63L419.52,265.82L424.54,267L429.55,268.18L434.57,269.37L439.58,270.55L444.6,271.73L449.61,272.92L454.62,274.1L459.64,275.22L464.65,276.33L469.67,277.45L474.68,278.57L479.7,279.68L484.71,280.8L489.73,281.92L494.74,283.03L499.76,284.15L504.77,285.27L509.79,286.38L514.8,287.5L514.8,293.7L509.79,292.53L504.77,291.37L499.76,290.2L494.74,289.03L489.73,287.87L484.71,286.7L479.7,285.53L474.68,284.37L469.67,283.2L464.65,282.03L459.64,280.87L454.62,279.7L449.61,278.6L444.6,277.5L439.58,276.4L434.57,275.3L429.55,274.2L424.54,273.1L419.52,272L414.51,270.9L409.49,269.8L404.48,268.7L399.46,267.6L394.45,266.5Z" fill="#4E79A7" fill-opacity="0.2"/>
<path d="M394.45,263.2L399.46,264.34L404.48,265.48L409.49,266.62L414.51,267.77L419.52,268.91L424.54,270.05L429.55,271.19L434.57,272.33L439.58,273.48L444.6,274.62L449.61,275.76L454.62,276.9L459.64,278.04L464.65,279.18L469.67,280.32L474.68,281.47L479.7,282.61L484.71,283.75L489.73,284.89L494.74,286.03L499.76,287.18L504.77,288.32L509.79,289.46L514.8,290.6" fill="none" stroke="#4E79A7" stroke-width="1.5"/>
<path d="M394.45,259.2L399.46,260.31L404.48,261.43L409.49,262.54L414.51,263.65L419.52,264.76L424.54,265.88L429.55,266.99L434.57,268.1L439.58,269.21L444.6,270.32L449.61,271.44L454.62,272.55L459.64,273.53L464.65,274.51L469.67,275.49L474.68,276.47L479.7,277.45L484.71,278.43L489.73,279.4L494.74,280.38L499.76,281.36L504.77,282.34L509.79,283.32L514.8,284.3L514.8,292.3L509.79,291.15L504.77,290.01L499.76,288.86L494.74,287.72L489.73,286.57L484.71,285.43L479.7,284.28L474.68,283.13L469.67,281.99L464.65,280.84L459.64,279.7L454.62,278.55L449.61,277.54L444.6,276.53L439.58,275.51L434.57,274.5L429.55,273.49L424.54,272.48L419.52,271.46L414.51,270.45L409.49,269.44L404.48,268.43L399.46,267.41L394.45,266.4Z" fill="#F28E2B" fill-opacity="0.2"/>
<path d="M394.45,262.8L399.46,263.86L404.48,264.93L409.49,265.99L414.51,267.05L419.52,268.11L424.54,269.18L429.55,270.24L434.57,271.3L439.58,272.36L444.6,273.43L449.61,274.49L454.62,275.55L459.64,276.61L464.65,277.68L469.67,278.74L474.68,279.8L479.7,280.86L484.71,281.93L489.73,282.99L494.74,284.05L499.76,285.11L504.77,286.18L509.79,287.24L514.8,288.3" fill="none" stroke="#F28E2B" stroke-width="1.5"/>
</g>
<rect x="388.42" y="252.85" width="132.3" height="130.63" fill="none" stroke="#b9b9b9" stroke-width="1.07"/>
<line x1="385.12" y1="377.54" x2="388.42" y2="377.54" stroke="#b3b3b3" stroke-width="1.0"/>
<text x="383.48" y="380.89" font-size="9.4" fill="#464646" text-anchor="end" letter-spacing="0.3">0.500</text>
<line x1="385.12" y1="350.52" x2="388.42" y2="350.52" stroke="#b3b3b3" stroke-width="1.0"/>
<text x="383.48" y="353.87" font-size="9.4" fill="#464646" text-anchor="end" letter-spacing="0.3">0.525</text>
<line x1="385.12" y1="323.49" x2="388.42" y2="323.49" stroke="#b3b3b3" stroke-width="1.0"/>
<text x="383.48" y="326.84" font-size="9.4" fill="#464646" text-anchor="end" letter-spacing="0.3">0.550</text>
<line x1="385.12" y1="296.47" x2="388.42" y2="296.47" stroke="#b3b3b3" stroke-width="1.0"/>
<text x="383.48" y="299.82" font-size="9.4" fill="#464646" text-anchor="end" letter-spacing="0.3">0.575</text>
<line x1="385.12" y1="269.45" x2="388.42" y2="269.45" stroke="#b3b3b3" stroke-width="1.0"/>
<text x="383.48" y="272.8" font-size="9.4" fill="#464646" text-anchor="end" letter-spacing="0.3">0.600</text>
<line x1="394.42" y1="383.48" x2="394.42" y2="386.78" stroke="#b3b3b3" stroke-width="1.0"/>
<text x="394.57" y="395.78" font-size="9.4" fill="#464646" text-anchor="middle" letter-spacing="0.3">2016</text>
<line x1="429.42" y1="383.48" x2="429.42" y2="386.78" stroke="#b3b3b3" stroke-width="1.0"/>
<text x="429.57" y="395.78" font-size="9.4" fill="#464646" text-anchor="middle" letter-spacing="0.3">2017</text>
<line x1="464.42" y1="383.48" x2="464.42" y2="386.78" stroke="#b3b3b3" stroke-width="1.0"/>
<text x="464.57" y="395.78" font-size="9.4" fill="#464646" text-anchor="middle" letter-spacing="0.3">2018</text>
<line x1="499.42" y1="383.48" x2="499.42" y2="386.78" stroke="#b3b3b3" stroke-width="1.0"/>
<text x="499.57" y="395.78" font-size="9.4" fill="#464646" text-anchor="middle" letter-spacing="0.3">2019</text>
<rect x="551.42" y="234.4" width="132.3" height="18.45" fill="#b3b3b3"/>
<text x="617.65" y="246.9" font-size="9.4" fill="#fff" text-anchor="middle" letter-spacing="0.17">HR (multiple of 10)</text>
<clipPath id="cB3"><rect x="551.42" y="252.85" width="132.3" height="130.63"/></clipPath>
<g clip-path="url(#cB3)">
<line x1="551.42" y1="357.85" x2="683.72" y2="357.85" stroke="#dedede" stroke-width="0.45"/>
<line x1="551.42" y1="318.46" x2="683.72" y2="318.46" stroke="#dedede" stroke-width="0.45"/>
<line x1="551.42" y1="279.07" x2="683.72" y2="279.07" stroke="#dedede" stroke-width="0.45"/>
<line x1="574.92" y1="252.85" x2="574.92" y2="383.48" stroke="#dedede" stroke-width="0.45"/>
<line x1="609.92" y1="252.85" x2="609.92" y2="383.48" stroke="#dedede" stroke-width="0.45"/>
<line x1="644.92" y1="252.85" x2="644.92" y2="383.48" stroke="#dedede" stroke-width="0.45"/>
<line x1="679.92" y1="252.85" x2="679.92" y2="383.48" stroke="#dedede" stroke-width="0.45"/>
<line x1="551.42" y1="377.54" x2="683.72" y2="377.54" stroke="#dedede" stroke-width="0.62"/>
<line x1="551.42" y1="338.15" x2="683.72" y2="338.15" stroke="#dedede" stroke-width="0.62"/>
<line x1="551.42" y1="298.77" x2="683.72" y2="298.77" stroke="#dedede" stroke-width="0.62"/>
<line x1="551.42" y1="259.38" x2="683.72" y2="259.38" stroke="#dedede" stroke-width="0.62"/>
<line x1="557.42" y1="252.85" x2="557.42" y2="383.48" stroke="#dedede" stroke-width="0.62"/>
<line x1="592.42" y1="252.85" x2="592.42" y2="383.48" stroke="#dedede" stroke-width="0.62"/>
<line x1="627.42" y1="252.85" x2="627.42" y2="383.48" stroke="#dedede" stroke-width="0.62"/>
<line x1="662.42" y1="252.85" x2="662.42" y2="383.48" stroke="#dedede" stroke-width="0.62"/>
<path d="M557.4,261.7L562.41,263.63L567.42,265.56L572.44,267.48L577.45,269.4L582.46,271.31L587.48,273.22L592.49,275.13L597.5,277.03L602.51,278.93L607.52,280.82L612.54,282.71L617.55,284.6L622.56,286.3L627.58,287.99L632.59,289.68L637.6,291.37L642.61,293.05L647.62,294.73L652.64,296.4L657.65,298.07L662.66,299.73L667.68,301.39L672.69,303.05L677.7,304.7L677.7,321.7L672.69,319.88L667.68,318.06L662.66,316.23L657.65,314.4L652.64,312.56L647.62,310.73L642.61,308.88L637.6,307.03L632.59,305.18L627.58,303.33L622.56,301.46L617.55,299.6L612.54,297.91L607.52,296.22L602.51,294.53L597.5,292.83L592.49,291.13L587.48,289.43L582.46,287.71L577.45,286L572.44,284.28L567.42,282.56L562.41,280.83L557.4,279.1Z" fill="#4E79A7" fill-opacity="0.2"/>
<path d="M557.4,270.4L562.41,272.23L567.42,274.06L572.44,275.88L577.45,277.7L582.46,279.51L587.48,281.32L592.49,283.13L597.5,284.93L602.51,286.73L607.52,288.52L612.54,290.31L617.55,292.1L622.56,293.88L627.58,295.66L632.59,297.43L637.6,299.2L642.61,300.96L647.62,302.73L652.64,304.48L657.65,306.23L662.66,307.98L667.68,309.72L672.69,311.46L677.7,313.2" fill="none" stroke="#4E79A7" stroke-width="1.5"/>
<path d="M557.4,259.2L562.41,260.49L567.42,261.77L572.44,263.06L577.45,264.33L582.46,265.61L587.48,266.88L592.49,268.14L597.5,269.4L602.51,270.66L607.52,271.91L612.54,273.16L617.55,274.4L622.56,275.45L627.58,276.49L632.59,277.53L637.6,278.57L642.61,279.6L647.62,280.62L652.64,281.65L657.65,282.67L662.66,283.68L667.68,284.69L672.69,285.7L677.7,286.7L677.7,304.1L672.69,302.95L667.68,301.79L662.66,300.63L657.65,299.47L652.64,298.3L647.62,297.12L642.61,295.95L637.6,294.77L632.59,293.58L627.58,292.39L622.56,291.2L617.55,290L612.54,288.99L607.52,287.98L602.51,286.96L597.5,285.93L592.49,284.91L587.48,283.88L582.46,282.84L577.45,281.8L572.44,280.76L567.42,279.71L562.41,278.66L557.4,277.6Z" fill="#F28E2B" fill-opacity="0.2"/>
<path d="M557.4,268.4L562.41,269.57L567.42,270.74L572.44,271.91L577.45,273.07L582.46,274.22L587.48,275.38L592.49,276.52L597.5,277.67L602.51,278.81L607.52,279.94L612.54,281.07L617.55,282.2L622.56,283.32L627.58,284.44L632.59,285.56L637.6,286.67L642.61,287.77L647.62,288.88L652.64,289.97L657.65,291.07L662.66,292.16L667.68,293.24L672.69,294.32L677.7,295.4" fill="none" stroke="#F28E2B" stroke-width="1.5"/>
</g>
<rect x="551.42" y="252.85" width="132.3" height="130.63" fill="none" stroke="#b9b9b9" stroke-width="1.07"/>
<line x1="548.12" y1="377.54" x2="551.42" y2="377.54" stroke="#b3b3b3" stroke-width="1.0"/>
<text x="546.48" y="380.89" font-size="9.4" fill="#464646" text-anchor="end" letter-spacing="0.3">0.10</text>
<line x1="548.12" y1="338.15" x2="551.42" y2="338.15" stroke="#b3b3b3" stroke-width="1.0"/>
<text x="546.48" y="341.5" font-size="9.4" fill="#464646" text-anchor="end" letter-spacing="0.3">0.11</text>
<line x1="548.12" y1="298.77" x2="551.42" y2="298.77" stroke="#b3b3b3" stroke-width="1.0"/>
<text x="546.48" y="302.12" font-size="9.4" fill="#464646" text-anchor="end" letter-spacing="0.3">0.12</text>
<line x1="548.12" y1="259.38" x2="551.42" y2="259.38" stroke="#b3b3b3" stroke-width="1.0"/>
<text x="546.48" y="262.73" font-size="9.4" fill="#464646" text-anchor="end" letter-spacing="0.3">0.13</text>
<line x1="557.42" y1="383.48" x2="557.42" y2="386.78" stroke="#b3b3b3" stroke-width="1.0"/>
<text x="557.57" y="395.78" font-size="9.4" fill="#464646" text-anchor="middle" letter-spacing="0.3">2016</text>
<line x1="592.42" y1="383.48" x2="592.42" y2="386.78" stroke="#b3b3b3" stroke-width="1.0"/>
<text x="592.57" y="395.78" font-size="9.4" fill="#464646" text-anchor="middle" letter-spacing="0.3">2017</text>
<line x1="627.42" y1="383.48" x2="627.42" y2="386.78" stroke="#b3b3b3" stroke-width="1.0"/>
<text x="627.57" y="395.78" font-size="9.4" fill="#464646" text-anchor="middle" letter-spacing="0.3">2018</text>
<line x1="662.42" y1="383.48" x2="662.42" y2="386.78" stroke="#b3b3b3" stroke-width="1.0"/>
<text x="662.57" y="395.78" font-size="9.4" fill="#464646" text-anchor="middle" letter-spacing="0.3">2019</text>
<rect x="52.55" y="465.4" width="131.2" height="18.55" fill="#b3b3b3"/>
<text x="118.23" y="477.9" font-size="9.4" fill="#fff" text-anchor="middle" letter-spacing="0.17">Temperature (36.0°C)</text>
<clipPath id="cC0"><rect x="52.55" y="483.95" width="131.2" height="155.35"/></clipPath>
<g clip-path="url(#cC0)">
<line x1="52.55" y1="599.11" x2="183.75" y2="599.11" stroke="#dedede" stroke-width="0.45"/>
<line x1="52.55" y1="550.69" x2="183.75" y2="550.69" stroke="#dedede" stroke-width="0.45"/>
<line x1="52.55" y1="502.27" x2="183.75" y2="502.27" stroke="#dedede" stroke-width="0.45"/>
<line x1="52.55" y1="623.32" x2="183.75" y2="623.32" stroke="#dedede" stroke-width="0.62"/>
<line x1="52.55" y1="574.9" x2="183.75" y2="574.9" stroke="#dedede" stroke-width="0.62"/>
<line x1="52.55" y1="526.48" x2="183.75" y2="526.48" stroke="#dedede" stroke-width="0.62"/>
<line x1="58.85" y1="483.95" x2="58.85" y2="639.3" stroke="#dedede" stroke-width="0.62"/>
<line x1="69.6" y1="483.95" x2="69.6" y2="639.3" stroke="#dedede" stroke-width="0.62"/>
<line x1="80.36" y1="483.95" x2="80.36" y2="639.3" stroke="#dedede" stroke-width="0.62"/>
<line x1="91.11" y1="483.95" x2="91.11" y2="639.3" stroke="#dedede" stroke-width="0.62"/>
<line x1="101.87" y1="483.95" x2="101.87" y2="639.3" stroke="#dedede" stroke-width="0.62"/>
<line x1="112.62" y1="483.95" x2="112.62" y2="639.3" stroke="#dedede" stroke-width="0.62"/>
<line x1="123.37" y1="483.95" x2="123.37" y2="639.3" stroke="#dedede" stroke-width="0.62"/>
<line x1="134.13" y1="483.95" x2="134.13" y2="639.3" stroke="#dedede" stroke-width="0.62"/>
<line x1="144.88" y1="483.95" x2="144.88" y2="639.3" stroke="#dedede" stroke-width="0.62"/>
<line x1="155.64" y1="483.95" x2="155.64" y2="639.3" stroke="#dedede" stroke-width="0.62"/>
<line x1="166.39" y1="483.95" x2="166.39" y2="639.3" stroke="#dedede" stroke-width="0.62"/>
<line x1="177.15" y1="483.95" x2="177.15" y2="639.3" stroke="#dedede" stroke-width="0.62"/>
<rect x="54.17" y="529.9" width="9.36" height="102.97" fill="#F8766D" fill-opacity="0.8"/>
<rect x="64.93" y="523.1" width="9.36" height="109.77" fill="#F8766D" fill-opacity="0.8"/>
<rect x="75.68" y="497.9" width="9.36" height="134.97" fill="#F8766D" fill-opacity="0.8"/>
<rect x="86.43" y="492.9" width="9.36" height="139.97" fill="#F8766D" fill-opacity="0.8"/>
<rect x="97.19" y="508.1" width="9.36" height="124.77" fill="#F8766D" fill-opacity="0.8"/>
<rect x="107.94" y="513.5" width="9.36" height="119.37" fill="#F8766D" fill-opacity="0.8"/>
<rect x="118.7" y="533.1" width="9.36" height="99.77" fill="#F8766D" fill-opacity="0.8"/>
<rect x="129.45" y="544.7" width="9.36" height="88.17" fill="#F8766D" fill-opacity="0.8"/>
<rect x="140.2" y="552.8" width="9.36" height="80.07" fill="#F8766D" fill-opacity="0.8"/>
<rect x="150.96" y="566.3" width="9.36" height="66.57" fill="#F8766D" fill-opacity="0.8"/>
<rect x="161.71" y="549.5" width="9.36" height="83.37" fill="#F8766D" fill-opacity="0.8"/>
<rect x="172.47" y="543.2" width="9.36" height="89.67" fill="#F8766D" fill-opacity="0.8"/>
<path d="M57.75,527.4H59.95M58.85,527.4V532.2M57.75,532.2H59.95" stroke="#333" stroke-opacity="0.85" stroke-width="0.8" fill="none"/>
<path d="M68.5,520.2H70.7M69.6,520.2V526M68.5,526H70.7" stroke="#333" stroke-opacity="0.85" stroke-width="0.8" fill="none"/>
<path d="M79.26,495.2H81.46M80.36,495.2V499.8M79.26,499.8H81.46" stroke="#333" stroke-opacity="0.85" stroke-width="0.8" fill="none"/>
<path d="M90.01,490.4H92.21M91.11,490.4V494.8M90.01,494.8H92.21" stroke="#333" stroke-opacity="0.85" stroke-width="0.8" fill="none"/>
<path d="M100.77,505.6H102.97M101.87,505.6V510.6M100.77,510.6H102.97" stroke="#333" stroke-opacity="0.85" stroke-width="0.8" fill="none"/>
<path d="M111.52,511H113.72M112.62,511V515.4M111.52,515.4H113.72" stroke="#333" stroke-opacity="0.85" stroke-width="0.8" fill="none"/>
<path d="M122.27,530.8H124.47M123.37,530.8V535.6M122.27,535.6H124.47" stroke="#333" stroke-opacity="0.85" stroke-width="0.8" fill="none"/>
<path d="M133.03,542.2H135.23M134.13,542.2V546.6M133.03,546.6H135.23" stroke="#333" stroke-opacity="0.85" stroke-width="0.8" fill="none"/>
<path d="M143.78,551.1H145.98M144.88,551.1V554.7M143.78,554.7H145.98" stroke="#333" stroke-opacity="0.85" stroke-width="0.8" fill="none"/>
<path d="M154.54,564H156.74M155.64,564V568.2M154.54,568.2H156.74" stroke="#333" stroke-opacity="0.85" stroke-width="0.8" fill="none"/>
<path d="M165.29,547.6H167.49M166.39,547.6V551.4M165.29,551.4H167.49" stroke="#333" stroke-opacity="0.85" stroke-width="0.8" fill="none"/>
<path d="M176.05,540.5H178.25M177.15,540.5V545.3M176.05,545.3H178.25" stroke="#333" stroke-opacity="0.85" stroke-width="0.8" fill="none"/>
</g>
<rect x="52.55" y="483.95" width="131.2" height="155.35" fill="none" stroke="#b9b9b9" stroke-width="1.07"/>
<line x1="49.25" y1="623.32" x2="52.55" y2="623.32" stroke="#b3b3b3" stroke-width="1.0"/>
<text x="47.61" y="626.67" font-size="9.4" fill="#464646" text-anchor="end" letter-spacing="0.3">0.05</text>
<line x1="49.25" y1="574.9" x2="52.55" y2="574.9" stroke="#b3b3b3" stroke-width="1.0"/>
<text x="47.61" y="578.25" font-size="9.4" fill="#464646" text-anchor="end" letter-spacing="0.3">0.10</text>
<line x1="49.25" y1="526.48" x2="52.55" y2="526.48" stroke="#b3b3b3" stroke-width="1.0"/>
<text x="47.61" y="529.83" font-size="9.4" fill="#464646" text-anchor="end" letter-spacing="0.3">0.15</text>
<line x1="58.85" y1="639.3" x2="58.85" y2="642.6" stroke="#b3b3b3" stroke-width="1.0"/>
<text transform="translate(59.05,645.6) rotate(-45)" x="0" y="0" font-size="9.4" fill="#464646" text-anchor="end" dy="6.0" letter-spacing="0.3">0–1</text>
<line x1="69.6" y1="639.3" x2="69.6" y2="642.6" stroke="#b3b3b3" stroke-width="1.0"/>
<text transform="translate(69.8,645.6) rotate(-45)" x="0" y="0" font-size="9.4" fill="#464646" text-anchor="end" dy="6.0" letter-spacing="0.3">2–3</text>
<line x1="80.36" y1="639.3" x2="80.36" y2="642.6" stroke="#b3b3b3" stroke-width="1.0"/>
<text transform="translate(80.56,645.6) rotate(-45)" x="0" y="0" font-size="9.4" fill="#464646" text-anchor="end" dy="6.0" letter-spacing="0.3">4–5</text>
<line x1="91.11" y1="639.3" x2="91.11" y2="642.6" stroke="#b3b3b3" stroke-width="1.0"/>
<text transform="translate(91.31,645.6) rotate(-45)" x="0" y="0" font-size="9.4" fill="#464646" text-anchor="end" dy="6.0" letter-spacing="0.3">6–7</text>
<line x1="101.87" y1="639.3" x2="101.87" y2="642.6" stroke="#b3b3b3" stroke-width="1.0"/>
<text transform="translate(102.07,645.6) rotate(-45)" x="0" y="0" font-size="9.4" fill="#464646" text-anchor="end" dy="6.0" letter-spacing="0.3">8–9</text>
<line x1="112.62" y1="639.3" x2="112.62" y2="642.6" stroke="#b3b3b3" stroke-width="1.0"/>
<text transform="translate(112.82,645.6) rotate(-45)" x="0" y="0" font-size="9.4" fill="#464646" text-anchor="end" dy="6.0" letter-spacing="0.3">10–11</text>
<line x1="123.37" y1="639.3" x2="123.37" y2="642.6" stroke="#b3b3b3" stroke-width="1.0"/>
<text transform="translate(123.57,645.6) rotate(-45)" x="0" y="0" font-size="9.4" fill="#464646" text-anchor="end" dy="6.0" letter-spacing="0.3">12–13</text>
<line x1="134.13" y1="639.3" x2="134.13" y2="642.6" stroke="#b3b3b3" stroke-width="1.0"/>
<text transform="translate(134.33,645.6) rotate(-45)" x="0" y="0" font-size="9.4" fill="#464646" text-anchor="end" dy="6.0" letter-spacing="0.3">14–15</text>
<line x1="144.88" y1="639.3" x2="144.88" y2="642.6" stroke="#b3b3b3" stroke-width="1.0"/>
<text transform="translate(145.08,645.6) rotate(-45)" x="0" y="0" font-size="9.4" fill="#464646" text-anchor="end" dy="6.0" letter-spacing="0.3">16–17</text>
<line x1="155.64" y1="639.3" x2="155.64" y2="642.6" stroke="#b3b3b3" stroke-width="1.0"/>
<text transform="translate(155.84,645.6) rotate(-45)" x="0" y="0" font-size="9.4" fill="#464646" text-anchor="end" dy="6.0" letter-spacing="0.3">18–19</text>
<line x1="166.39" y1="639.3" x2="166.39" y2="642.6" stroke="#b3b3b3" stroke-width="1.0"/>
<text transform="translate(166.59,645.6) rotate(-45)" x="0" y="0" font-size="9.4" fill="#464646" text-anchor="end" dy="6.0" letter-spacing="0.3">20–21</text>
<line x1="177.15" y1="639.3" x2="177.15" y2="642.6" stroke="#b3b3b3" stroke-width="1.0"/>
<text transform="translate(177.35,645.6) rotate(-45)" x="0" y="0" font-size="9.4" fill="#464646" text-anchor="end" dy="6.0" letter-spacing="0.3">22–23</text>
<rect x="219.48" y="465.4" width="131.2" height="18.55" fill="#b3b3b3"/>
<text x="285.16" y="477.9" font-size="9.4" fill="#fff" text-anchor="middle" letter-spacing="0.17">BP (multiple of 10)</text>
<clipPath id="cC1"><rect x="219.48" y="483.95" width="131.2" height="155.35"/></clipPath>
<g clip-path="url(#cC1)">
<line x1="219.48" y1="611.89" x2="350.68" y2="611.89" stroke="#dedede" stroke-width="0.45"/>
<line x1="219.48" y1="570.48" x2="350.68" y2="570.48" stroke="#dedede" stroke-width="0.45"/>
<line x1="219.48" y1="529.06" x2="350.68" y2="529.06" stroke="#dedede" stroke-width="0.45"/>
<line x1="219.48" y1="487.65" x2="350.68" y2="487.65" stroke="#dedede" stroke-width="0.45"/>
<line x1="219.48" y1="632.6" x2="350.68" y2="632.6" stroke="#dedede" stroke-width="0.62"/>
<line x1="219.48" y1="591.19" x2="350.68" y2="591.19" stroke="#dedede" stroke-width="0.62"/>
<line x1="219.48" y1="549.77" x2="350.68" y2="549.77" stroke="#dedede" stroke-width="0.62"/>
<line x1="219.48" y1="508.36" x2="350.68" y2="508.36" stroke="#dedede" stroke-width="0.62"/>
<line x1="225.48" y1="483.95" x2="225.48" y2="639.3" stroke="#dedede" stroke-width="0.62"/>
<line x1="236.23" y1="483.95" x2="236.23" y2="639.3" stroke="#dedede" stroke-width="0.62"/>
<line x1="246.99" y1="483.95" x2="246.99" y2="639.3" stroke="#dedede" stroke-width="0.62"/>
<line x1="257.74" y1="483.95" x2="257.74" y2="639.3" stroke="#dedede" stroke-width="0.62"/>
<line x1="268.5" y1="483.95" x2="268.5" y2="639.3" stroke="#dedede" stroke-width="0.62"/>
<line x1="279.25" y1="483.95" x2="279.25" y2="639.3" stroke="#dedede" stroke-width="0.62"/>
<line x1="290" y1="483.95" x2="290" y2="639.3" stroke="#dedede" stroke-width="0.62"/>
<line x1="300.76" y1="483.95" x2="300.76" y2="639.3" stroke="#dedede" stroke-width="0.62"/>
<line x1="311.51" y1="483.95" x2="311.51" y2="639.3" stroke="#dedede" stroke-width="0.62"/>
<line x1="322.27" y1="483.95" x2="322.27" y2="639.3" stroke="#dedede" stroke-width="0.62"/>
<line x1="333.02" y1="483.95" x2="333.02" y2="639.3" stroke="#dedede" stroke-width="0.62"/>
<line x1="343.78" y1="483.95" x2="343.78" y2="639.3" stroke="#dedede" stroke-width="0.62"/>
<rect x="220.8" y="547" width="9.36" height="85.6" fill="#7CAE00" fill-opacity="0.8"/>
<rect x="231.56" y="561.5" width="9.36" height="71.1" fill="#7CAE00" fill-opacity="0.8"/>
<rect x="242.31" y="577.1" width="9.36" height="55.5" fill="#7CAE00" fill-opacity="0.8"/>
<rect x="253.06" y="538" width="9.36" height="94.6" fill="#7CAE00" fill-opacity="0.8"/>
<rect x="263.82" y="580.7" width="9.36" height="51.9" fill="#7CAE00" fill-opacity="0.8"/>
<rect x="274.57" y="569.9" width="9.36" height="62.7" fill="#7CAE00" fill-opacity="0.8"/>
<rect x="285.33" y="565.1" width="9.36" height="67.5" fill="#7CAE00" fill-opacity="0.8"/>
<rect x="296.08" y="564" width="9.36" height="68.6" fill="#7CAE00" fill-opacity="0.8"/>
<rect x="306.83" y="576.7" width="9.36" height="55.9" fill="#7CAE00" fill-opacity="0.8"/>
<rect x="317.59" y="551.6" width="9.36" height="81" fill="#7CAE00" fill-opacity="0.8"/>
<rect x="328.34" y="573.8" width="9.36" height="58.8" fill="#7CAE00" fill-opacity="0.8"/>
<rect x="339.1" y="498.8" width="9.36" height="133.8" fill="#7CAE00" fill-opacity="0.8"/>
<path d="M224.38,539.3H226.58M225.48,539.3V554.5M224.38,554.5H226.58" stroke="#333" stroke-opacity="0.85" stroke-width="0.8" fill="none"/>
<path d="M235.13,553.4H237.33M236.23,553.4V569.4M235.13,569.4H237.33" stroke="#333" stroke-opacity="0.85" stroke-width="0.8" fill="none"/>
<path d="M245.89,571.3H248.09M246.99,571.3V582.7M245.89,582.7H248.09" stroke="#333" stroke-opacity="0.85" stroke-width="0.8" fill="none"/>
<path d="M256.64,532.4H258.84M257.74,532.4V543.4M256.64,543.4H258.84" stroke="#333" stroke-opacity="0.85" stroke-width="0.8" fill="none"/>
<path d="M267.4,575.2H269.6M268.5,575.2V586.1M267.4,586.1H269.6" stroke="#333" stroke-opacity="0.85" stroke-width="0.8" fill="none"/>
<path d="M278.15,564.9H280.35M279.25,564.9V574.8M278.15,574.8H280.35" stroke="#333" stroke-opacity="0.85" stroke-width="0.8" fill="none"/>
<path d="M288.9,559.4H291.1M290,559.4V570.9M288.9,570.9H291.1" stroke="#333" stroke-opacity="0.85" stroke-width="0.8" fill="none"/>
<path d="M299.66,558.4H301.86M300.76,558.4V569.6M299.66,569.6H301.86" stroke="#333" stroke-opacity="0.85" stroke-width="0.8" fill="none"/>
<path d="M310.41,571.7H312.61M311.51,571.7V581.5M310.41,581.5H312.61" stroke="#333" stroke-opacity="0.85" stroke-width="0.8" fill="none"/>
<path d="M321.17,545.7H323.37M322.27,545.7V557.6M321.17,557.6H323.37" stroke="#333" stroke-opacity="0.85" stroke-width="0.8" fill="none"/>
<path d="M331.92,569.4H334.12M333.02,569.4V578.6M331.92,578.6H334.12" stroke="#333" stroke-opacity="0.85" stroke-width="0.8" fill="none"/>
<path d="M342.68,490.9H344.88M343.78,490.9V506.5M342.68,506.5H344.88" stroke="#333" stroke-opacity="0.85" stroke-width="0.8" fill="none"/>
</g>
<rect x="219.48" y="483.95" width="131.2" height="155.35" fill="none" stroke="#b9b9b9" stroke-width="1.07"/>
<line x1="216.18" y1="632.6" x2="219.48" y2="632.6" stroke="#b3b3b3" stroke-width="1.0"/>
<text x="214.54" y="635.95" font-size="9.4" fill="#464646" text-anchor="end" letter-spacing="0.3">0.010</text>
<line x1="216.18" y1="591.19" x2="219.48" y2="591.19" stroke="#b3b3b3" stroke-width="1.0"/>
<text x="214.54" y="594.54" font-size="9.4" fill="#464646" text-anchor="end" letter-spacing="0.3">0.015</text>
<line x1="216.18" y1="549.77" x2="219.48" y2="549.77" stroke="#b3b3b3" stroke-width="1.0"/>
<text x="214.54" y="553.12" font-size="9.4" fill="#464646" text-anchor="end" letter-spacing="0.3">0.020</text>
<line x1="216.18" y1="508.36" x2="219.48" y2="508.36" stroke="#b3b3b3" stroke-width="1.0"/>
<text x="214.54" y="511.71" font-size="9.4" fill="#464646" text-anchor="end" letter-spacing="0.3">0.025</text>
<line x1="225.48" y1="639.3" x2="225.48" y2="642.6" stroke="#b3b3b3" stroke-width="1.0"/>
<text transform="translate(225.68,645.6) rotate(-45)" x="0" y="0" font-size="9.4" fill="#464646" text-anchor="end" dy="6.0" letter-spacing="0.3">0–1</text>
<line x1="236.23" y1="639.3" x2="236.23" y2="642.6" stroke="#b3b3b3" stroke-width="1.0"/>
<text transform="translate(236.43,645.6) rotate(-45)" x="0" y="0" font-size="9.4" fill="#464646" text-anchor="end" dy="6.0" letter-spacing="0.3">2–3</text>
<line x1="246.99" y1="639.3" x2="246.99" y2="642.6" stroke="#b3b3b3" stroke-width="1.0"/>
<text transform="translate(247.19,645.6) rotate(-45)" x="0" y="0" font-size="9.4" fill="#464646" text-anchor="end" dy="6.0" letter-spacing="0.3">4–5</text>
<line x1="257.74" y1="639.3" x2="257.74" y2="642.6" stroke="#b3b3b3" stroke-width="1.0"/>
<text transform="translate(257.94,645.6) rotate(-45)" x="0" y="0" font-size="9.4" fill="#464646" text-anchor="end" dy="6.0" letter-spacing="0.3">6–7</text>
<line x1="268.5" y1="639.3" x2="268.5" y2="642.6" stroke="#b3b3b3" stroke-width="1.0"/>
<text transform="translate(268.7,645.6) rotate(-45)" x="0" y="0" font-size="9.4" fill="#464646" text-anchor="end" dy="6.0" letter-spacing="0.3">8–9</text>
<line x1="279.25" y1="639.3" x2="279.25" y2="642.6" stroke="#b3b3b3" stroke-width="1.0"/>
<text transform="translate(279.45,645.6) rotate(-45)" x="0" y="0" font-size="9.4" fill="#464646" text-anchor="end" dy="6.0" letter-spacing="0.3">10–11</text>
<line x1="290" y1="639.3" x2="290" y2="642.6" stroke="#b3b3b3" stroke-width="1.0"/>
<text transform="translate(290.2,645.6) rotate(-45)" x="0" y="0" font-size="9.4" fill="#464646" text-anchor="end" dy="6.0" letter-spacing="0.3">12–13</text>
<line x1="300.76" y1="639.3" x2="300.76" y2="642.6" stroke="#b3b3b3" stroke-width="1.0"/>
<text transform="translate(300.96,645.6) rotate(-45)" x="0" y="0" font-size="9.4" fill="#464646" text-anchor="end" dy="6.0" letter-spacing="0.3">14–15</text>
<line x1="311.51" y1="639.3" x2="311.51" y2="642.6" stroke="#b3b3b3" stroke-width="1.0"/>
<text transform="translate(311.71,645.6) rotate(-45)" x="0" y="0" font-size="9.4" fill="#464646" text-anchor="end" dy="6.0" letter-spacing="0.3">16–17</text>
<line x1="322.27" y1="639.3" x2="322.27" y2="642.6" stroke="#b3b3b3" stroke-width="1.0"/>
<text transform="translate(322.47,645.6) rotate(-45)" x="0" y="0" font-size="9.4" fill="#464646" text-anchor="end" dy="6.0" letter-spacing="0.3">18–19</text>
<line x1="333.02" y1="639.3" x2="333.02" y2="642.6" stroke="#b3b3b3" stroke-width="1.0"/>
<text transform="translate(333.22,645.6) rotate(-45)" x="0" y="0" font-size="9.4" fill="#464646" text-anchor="end" dy="6.0" letter-spacing="0.3">20–21</text>
<line x1="343.78" y1="639.3" x2="343.78" y2="642.6" stroke="#b3b3b3" stroke-width="1.0"/>
<text transform="translate(343.98,645.6) rotate(-45)" x="0" y="0" font-size="9.4" fill="#464646" text-anchor="end" dy="6.0" letter-spacing="0.3">22–23</text>
<rect x="385.94" y="465.4" width="131.2" height="18.55" fill="#b3b3b3"/>
<text x="451.62" y="477.9" font-size="9.4" fill="#fff" text-anchor="middle" letter-spacing="0.17">RR (multiple of 2)</text>
<clipPath id="cC2"><rect x="385.94" y="483.95" width="131.2" height="155.35"/></clipPath>
<g clip-path="url(#cC2)">
<line x1="385.94" y1="616.13" x2="517.14" y2="616.13" stroke="#dedede" stroke-width="0.45"/>
<line x1="385.94" y1="582.98" x2="517.14" y2="582.98" stroke="#dedede" stroke-width="0.45"/>
<line x1="385.94" y1="549.83" x2="517.14" y2="549.83" stroke="#dedede" stroke-width="0.45"/>
<line x1="385.94" y1="516.67" x2="517.14" y2="516.67" stroke="#dedede" stroke-width="0.45"/>
<line x1="385.94" y1="632.7" x2="517.14" y2="632.7" stroke="#dedede" stroke-width="0.62"/>
<line x1="385.94" y1="599.55" x2="517.14" y2="599.55" stroke="#dedede" stroke-width="0.62"/>
<line x1="385.94" y1="566.4" x2="517.14" y2="566.4" stroke="#dedede" stroke-width="0.62"/>
<line x1="385.94" y1="533.25" x2="517.14" y2="533.25" stroke="#dedede" stroke-width="0.62"/>
<line x1="385.94" y1="500.1" x2="517.14" y2="500.1" stroke="#dedede" stroke-width="0.62"/>
<line x1="392.24" y1="483.95" x2="392.24" y2="639.3" stroke="#dedede" stroke-width="0.62"/>
<line x1="402.99" y1="483.95" x2="402.99" y2="639.3" stroke="#dedede" stroke-width="0.62"/>
<line x1="413.75" y1="483.95" x2="413.75" y2="639.3" stroke="#dedede" stroke-width="0.62"/>
<line x1="424.5" y1="483.95" x2="424.5" y2="639.3" stroke="#dedede" stroke-width="0.62"/>
<line x1="435.26" y1="483.95" x2="435.26" y2="639.3" stroke="#dedede" stroke-width="0.62"/>
<line x1="446.01" y1="483.95" x2="446.01" y2="639.3" stroke="#dedede" stroke-width="0.62"/>
<line x1="456.76" y1="483.95" x2="456.76" y2="639.3" stroke="#dedede" stroke-width="0.62"/>
<line x1="467.52" y1="483.95" x2="467.52" y2="639.3" stroke="#dedede" stroke-width="0.62"/>
<line x1="478.27" y1="483.95" x2="478.27" y2="639.3" stroke="#dedede" stroke-width="0.62"/>
<line x1="489.03" y1="483.95" x2="489.03" y2="639.3" stroke="#dedede" stroke-width="0.62"/>
<line x1="499.78" y1="483.95" x2="499.78" y2="639.3" stroke="#dedede" stroke-width="0.62"/>
<line x1="510.54" y1="483.95" x2="510.54" y2="639.3" stroke="#dedede" stroke-width="0.62"/>
<rect x="387.56" y="509.2" width="9.36" height="123.5" fill="#00BFC4" fill-opacity="0.8"/>
<rect x="398.32" y="509.1" width="9.36" height="123.6" fill="#00BFC4" fill-opacity="0.8"/>
<rect x="409.07" y="503.3" width="9.36" height="129.4" fill="#00BFC4" fill-opacity="0.8"/>
<rect x="419.82" y="495.9" width="9.36" height="136.8" fill="#00BFC4" fill-opacity="0.8"/>
<rect x="430.58" y="520" width="9.36" height="112.7" fill="#00BFC4" fill-opacity="0.8"/>
<rect x="441.33" y="508.1" width="9.36" height="124.6" fill="#00BFC4" fill-opacity="0.8"/>
<rect x="452.09" y="506.7" width="9.36" height="126" fill="#00BFC4" fill-opacity="0.8"/>
<rect x="462.84" y="502.7" width="9.36" height="130" fill="#00BFC4" fill-opacity="0.8"/>
<rect x="473.59" y="507.3" width="9.36" height="125.4" fill="#00BFC4" fill-opacity="0.8"/>
<rect x="484.35" y="512.1" width="9.36" height="120.6" fill="#00BFC4" fill-opacity="0.8"/>
<rect x="495.1" y="494" width="9.36" height="138.7" fill="#00BFC4" fill-opacity="0.8"/>
<rect x="505.86" y="504" width="9.36" height="128.7" fill="#00BFC4" fill-opacity="0.8"/>
<path d="M391.14,504.2H393.34M392.24,504.2V514.3M391.14,514.3H393.34" stroke="#333" stroke-opacity="0.85" stroke-width="0.8" fill="none"/>
<path d="M401.89,503.7H404.09M402.99,503.7V513.9M401.89,513.9H404.09" stroke="#333" stroke-opacity="0.85" stroke-width="0.8" fill="none"/>
<path d="M412.65,499H414.85M413.75,499V507.5M412.65,507.5H414.85" stroke="#333" stroke-opacity="0.85" stroke-width="0.8" fill="none"/>
<path d="M423.4,492.3H425.6M424.5,492.3V499M423.4,499H425.6" stroke="#333" stroke-opacity="0.85" stroke-width="0.8" fill="none"/>
<path d="M434.16,516.2H436.36M435.26,516.2V524.1M434.16,524.1H436.36" stroke="#333" stroke-opacity="0.85" stroke-width="0.8" fill="none"/>
<path d="M444.91,504H447.11M446.01,504V511.4M444.91,511.4H447.11" stroke="#333" stroke-opacity="0.85" stroke-width="0.8" fill="none"/>
<path d="M455.66,502.5H457.86M456.76,502.5V511M455.66,511H457.86" stroke="#333" stroke-opacity="0.85" stroke-width="0.8" fill="none"/>
<path d="M466.42,498.8H468.62M467.52,498.8V506.5M466.42,506.5H468.62" stroke="#333" stroke-opacity="0.85" stroke-width="0.8" fill="none"/>
<path d="M477.17,503.5H479.37M478.27,503.5V510.8M477.17,510.8H479.37" stroke="#333" stroke-opacity="0.85" stroke-width="0.8" fill="none"/>
<path d="M487.93,507.7H490.13M489.03,507.7V516M487.93,516H490.13" stroke="#333" stroke-opacity="0.85" stroke-width="0.8" fill="none"/>
<path d="M498.68,490.4H500.88M499.78,490.4V497.5M498.68,497.5H500.88" stroke="#333" stroke-opacity="0.85" stroke-width="0.8" fill="none"/>
<path d="M509.44,500.2H511.64M510.54,500.2V508.1M509.44,508.1H511.64" stroke="#333" stroke-opacity="0.85" stroke-width="0.8" fill="none"/>
</g>
<rect x="385.94" y="483.95" width="131.2" height="155.35" fill="none" stroke="#b9b9b9" stroke-width="1.07"/>
<line x1="382.64" y1="632.7" x2="385.94" y2="632.7" stroke="#b3b3b3" stroke-width="1.0"/>
<text x="381" y="636.05" font-size="9.4" fill="#464646" text-anchor="end" letter-spacing="0.3">0.500</text>
<line x1="382.64" y1="599.55" x2="385.94" y2="599.55" stroke="#b3b3b3" stroke-width="1.0"/>
<text x="381" y="602.9" font-size="9.4" fill="#464646" text-anchor="end" letter-spacing="0.3">0.525</text>
<line x1="382.64" y1="566.4" x2="385.94" y2="566.4" stroke="#b3b3b3" stroke-width="1.0"/>
<text x="381" y="569.75" font-size="9.4" fill="#464646" text-anchor="end" letter-spacing="0.3">0.550</text>
<line x1="382.64" y1="533.25" x2="385.94" y2="533.25" stroke="#b3b3b3" stroke-width="1.0"/>
<text x="381" y="536.6" font-size="9.4" fill="#464646" text-anchor="end" letter-spacing="0.3">0.575</text>
<line x1="382.64" y1="500.1" x2="385.94" y2="500.1" stroke="#b3b3b3" stroke-width="1.0"/>
<text x="381" y="503.45" font-size="9.4" fill="#464646" text-anchor="end" letter-spacing="0.3">0.600</text>
<line x1="392.24" y1="639.3" x2="392.24" y2="642.6" stroke="#b3b3b3" stroke-width="1.0"/>
<text transform="translate(392.44,645.6) rotate(-45)" x="0" y="0" font-size="9.4" fill="#464646" text-anchor="end" dy="6.0" letter-spacing="0.3">0–1</text>
<line x1="402.99" y1="639.3" x2="402.99" y2="642.6" stroke="#b3b3b3" stroke-width="1.0"/>
<text transform="translate(403.19,645.6) rotate(-45)" x="0" y="0" font-size="9.4" fill="#464646" text-anchor="end" dy="6.0" letter-spacing="0.3">2–3</text>
<line x1="413.75" y1="639.3" x2="413.75" y2="642.6" stroke="#b3b3b3" stroke-width="1.0"/>
<text transform="translate(413.95,645.6) rotate(-45)" x="0" y="0" font-size="9.4" fill="#464646" text-anchor="end" dy="6.0" letter-spacing="0.3">4–5</text>
<line x1="424.5" y1="639.3" x2="424.5" y2="642.6" stroke="#b3b3b3" stroke-width="1.0"/>
<text transform="translate(424.7,645.6) rotate(-45)" x="0" y="0" font-size="9.4" fill="#464646" text-anchor="end" dy="6.0" letter-spacing="0.3">6–7</text>
<line x1="435.26" y1="639.3" x2="435.26" y2="642.6" stroke="#b3b3b3" stroke-width="1.0"/>
<text transform="translate(435.46,645.6) rotate(-45)" x="0" y="0" font-size="9.4" fill="#464646" text-anchor="end" dy="6.0" letter-spacing="0.3">8–9</text>
<line x1="446.01" y1="639.3" x2="446.01" y2="642.6" stroke="#b3b3b3" stroke-width="1.0"/>
<text transform="translate(446.21,645.6) rotate(-45)" x="0" y="0" font-size="9.4" fill="#464646" text-anchor="end" dy="6.0" letter-spacing="0.3">10–11</text>
<line x1="456.76" y1="639.3" x2="456.76" y2="642.6" stroke="#b3b3b3" stroke-width="1.0"/>
<text transform="translate(456.96,645.6) rotate(-45)" x="0" y="0" font-size="9.4" fill="#464646" text-anchor="end" dy="6.0" letter-spacing="0.3">12–13</text>
<line x1="467.52" y1="639.3" x2="467.52" y2="642.6" stroke="#b3b3b3" stroke-width="1.0"/>
<text transform="translate(467.72,645.6) rotate(-45)" x="0" y="0" font-size="9.4" fill="#464646" text-anchor="end" dy="6.0" letter-spacing="0.3">14–15</text>
<line x1="478.27" y1="639.3" x2="478.27" y2="642.6" stroke="#b3b3b3" stroke-width="1.0"/>
<text transform="translate(478.47,645.6) rotate(-45)" x="0" y="0" font-size="9.4" fill="#464646" text-anchor="end" dy="6.0" letter-spacing="0.3">16–17</text>
<line x1="489.03" y1="639.3" x2="489.03" y2="642.6" stroke="#b3b3b3" stroke-width="1.0"/>
<text transform="translate(489.23,645.6) rotate(-45)" x="0" y="0" font-size="9.4" fill="#464646" text-anchor="end" dy="6.0" letter-spacing="0.3">18–19</text>
<line x1="499.78" y1="639.3" x2="499.78" y2="642.6" stroke="#b3b3b3" stroke-width="1.0"/>
<text transform="translate(499.98,645.6) rotate(-45)" x="0" y="0" font-size="9.4" fill="#464646" text-anchor="end" dy="6.0" letter-spacing="0.3">20–21</text>
<line x1="510.54" y1="639.3" x2="510.54" y2="642.6" stroke="#b3b3b3" stroke-width="1.0"/>
<text transform="translate(510.74,645.6) rotate(-45)" x="0" y="0" font-size="9.4" fill="#464646" text-anchor="end" dy="6.0" letter-spacing="0.3">22–23</text>
<rect x="552.46" y="465.4" width="131.2" height="18.55" fill="#b3b3b3"/>
<text x="618.15" y="477.9" font-size="9.4" fill="#fff" text-anchor="middle" letter-spacing="0.17">HR (multiple of 10)</text>
<clipPath id="cC3"><rect x="552.46" y="483.95" width="131.2" height="155.35"/></clipPath>
<g clip-path="url(#cC3)">
<line x1="552.46" y1="618.01" x2="683.66" y2="618.01" stroke="#dedede" stroke-width="0.45"/>
<line x1="552.46" y1="588.54" x2="683.66" y2="588.54" stroke="#dedede" stroke-width="0.45"/>
<line x1="552.46" y1="559.07" x2="683.66" y2="559.07" stroke="#dedede" stroke-width="0.45"/>
<line x1="552.46" y1="529.6" x2="683.66" y2="529.6" stroke="#dedede" stroke-width="0.45"/>
<line x1="552.46" y1="500.13" x2="683.66" y2="500.13" stroke="#dedede" stroke-width="0.45"/>
<line x1="552.46" y1="632.74" x2="683.66" y2="632.74" stroke="#dedede" stroke-width="0.62"/>
<line x1="552.46" y1="603.27" x2="683.66" y2="603.27" stroke="#dedede" stroke-width="0.62"/>
<line x1="552.46" y1="573.8" x2="683.66" y2="573.8" stroke="#dedede" stroke-width="0.62"/>
<line x1="552.46" y1="544.33" x2="683.66" y2="544.33" stroke="#dedede" stroke-width="0.62"/>
<line x1="552.46" y1="514.86" x2="683.66" y2="514.86" stroke="#dedede" stroke-width="0.62"/>
<line x1="552.46" y1="485.39" x2="683.66" y2="485.39" stroke="#dedede" stroke-width="0.62"/>
<line x1="558.76" y1="483.95" x2="558.76" y2="639.3" stroke="#dedede" stroke-width="0.62"/>
<line x1="569.51" y1="483.95" x2="569.51" y2="639.3" stroke="#dedede" stroke-width="0.62"/>
<line x1="580.27" y1="483.95" x2="580.27" y2="639.3" stroke="#dedede" stroke-width="0.62"/>
<line x1="591.02" y1="483.95" x2="591.02" y2="639.3" stroke="#dedede" stroke-width="0.62"/>
<line x1="601.78" y1="483.95" x2="601.78" y2="639.3" stroke="#dedede" stroke-width="0.62"/>
<line x1="612.53" y1="483.95" x2="612.53" y2="639.3" stroke="#dedede" stroke-width="0.62"/>
<line x1="623.28" y1="483.95" x2="623.28" y2="639.3" stroke="#dedede" stroke-width="0.62"/>
<line x1="634.04" y1="483.95" x2="634.04" y2="639.3" stroke="#dedede" stroke-width="0.62"/>
<line x1="644.79" y1="483.95" x2="644.79" y2="639.3" stroke="#dedede" stroke-width="0.62"/>
<line x1="655.55" y1="483.95" x2="655.55" y2="639.3" stroke="#dedede" stroke-width="0.62"/>
<line x1="666.3" y1="483.95" x2="666.3" y2="639.3" stroke="#dedede" stroke-width="0.62"/>
<line x1="677.06" y1="483.95" x2="677.06" y2="639.3" stroke="#dedede" stroke-width="0.62"/>
<rect x="554.08" y="505.8" width="9.36" height="126.94" fill="#C77CFF" fill-opacity="0.8"/>
<rect x="564.84" y="527.2" width="9.36" height="105.54" fill="#C77CFF" fill-opacity="0.8"/>
<rect x="575.59" y="525.2" width="9.36" height="107.54" fill="#C77CFF" fill-opacity="0.8"/>
<rect x="586.34" y="523.9" width="9.36" height="108.84" fill="#C77CFF" fill-opacity="0.8"/>
<rect x="597.1" y="507.1" width="9.36" height="125.64" fill="#C77CFF" fill-opacity="0.8"/>
<rect x="607.85" y="506.9" width="9.36" height="125.84" fill="#C77CFF" fill-opacity="0.8"/>
<rect x="618.61" y="502.7" width="9.36" height="130.04" fill="#C77CFF" fill-opacity="0.8"/>
<rect x="629.36" y="506.4" width="9.36" height="126.34" fill="#C77CFF" fill-opacity="0.8"/>
<rect x="640.11" y="508.9" width="9.36" height="123.84" fill="#C77CFF" fill-opacity="0.8"/>
<rect x="650.87" y="501.3" width="9.36" height="131.44" fill="#C77CFF" fill-opacity="0.8"/>
<rect x="661.62" y="525" width="9.36" height="107.74" fill="#C77CFF" fill-opacity="0.8"/>
<rect x="672.38" y="514.8" width="9.36" height="117.94" fill="#C77CFF" fill-opacity="0.8"/>
<path d="M557.66,492.3H559.86M558.76,492.3V518.7M557.66,518.7H559.86" stroke="#333" stroke-opacity="0.85" stroke-width="0.8" fill="none"/>
<path d="M568.41,513.4H570.61M569.51,513.4V541.2M568.41,541.2H570.61" stroke="#333" stroke-opacity="0.85" stroke-width="0.8" fill="none"/>
<path d="M579.17,514.8H581.37M580.27,514.8V535.6M579.17,535.6H581.37" stroke="#333" stroke-opacity="0.85" stroke-width="0.8" fill="none"/>
<path d="M589.92,515.2H592.12M591.02,515.2V532.6M589.92,532.6H592.12" stroke="#333" stroke-opacity="0.85" stroke-width="0.8" fill="none"/>
<path d="M600.68,496.1H602.88M601.78,496.1V518.1M600.68,518.1H602.88" stroke="#333" stroke-opacity="0.85" stroke-width="0.8" fill="none"/>
<path d="M611.43,497.5H613.63M612.53,497.5V516.4M611.43,516.4H613.63" stroke="#333" stroke-opacity="0.85" stroke-width="0.8" fill="none"/>
<path d="M622.18,492.1H624.38M623.28,492.1V513.5M622.18,513.5H624.38" stroke="#333" stroke-opacity="0.85" stroke-width="0.8" fill="none"/>
<path d="M632.94,496.1H635.14M634.04,496.1V516.4M632.94,516.4H635.14" stroke="#333" stroke-opacity="0.85" stroke-width="0.8" fill="none"/>
<path d="M643.69,499H645.89M644.79,499V518.7M643.69,518.7H645.89" stroke="#333" stroke-opacity="0.85" stroke-width="0.8" fill="none"/>
<path d="M654.45,490.7H656.65M655.55,490.7V512.3M654.45,512.3H656.65" stroke="#333" stroke-opacity="0.85" stroke-width="0.8" fill="none"/>
<path d="M665.2,516.4H667.4M666.3,516.4V534.1M665.2,534.1H667.4" stroke="#333" stroke-opacity="0.85" stroke-width="0.8" fill="none"/>
<path d="M675.96,504H678.16M677.06,504V526M675.96,526H678.16" stroke="#333" stroke-opacity="0.85" stroke-width="0.8" fill="none"/>
</g>
<rect x="552.46" y="483.95" width="131.2" height="155.35" fill="none" stroke="#b9b9b9" stroke-width="1.07"/>
<line x1="549.16" y1="632.74" x2="552.46" y2="632.74" stroke="#b3b3b3" stroke-width="1.0"/>
<text x="547.52" y="636.09" font-size="9.4" fill="#464646" text-anchor="end" letter-spacing="0.3">0.100</text>
<line x1="549.16" y1="603.27" x2="552.46" y2="603.27" stroke="#b3b3b3" stroke-width="1.0"/>
<text x="547.52" y="606.62" font-size="9.4" fill="#464646" text-anchor="end" letter-spacing="0.3">0.105</text>
<line x1="549.16" y1="573.8" x2="552.46" y2="573.8" stroke="#b3b3b3" stroke-width="1.0"/>
<text x="547.52" y="577.15" font-size="9.4" fill="#464646" text-anchor="end" letter-spacing="0.3">0.110</text>
<line x1="549.16" y1="544.33" x2="552.46" y2="544.33" stroke="#b3b3b3" stroke-width="1.0"/>
<text x="547.52" y="547.68" font-size="9.4" fill="#464646" text-anchor="end" letter-spacing="0.3">0.115</text>
<line x1="549.16" y1="514.86" x2="552.46" y2="514.86" stroke="#b3b3b3" stroke-width="1.0"/>
<text x="547.52" y="518.21" font-size="9.4" fill="#464646" text-anchor="end" letter-spacing="0.3">0.120</text>
<line x1="549.16" y1="485.39" x2="552.46" y2="485.39" stroke="#b3b3b3" stroke-width="1.0"/>
<text x="547.52" y="488.74" font-size="9.4" fill="#464646" text-anchor="end" letter-spacing="0.3">0.125</text>
<line x1="558.76" y1="639.3" x2="558.76" y2="642.6" stroke="#b3b3b3" stroke-width="1.0"/>
<text transform="translate(558.96,645.6) rotate(-45)" x="0" y="0" font-size="9.4" fill="#464646" text-anchor="end" dy="6.0" letter-spacing="0.3">0–1</text>
<line x1="569.51" y1="639.3" x2="569.51" y2="642.6" stroke="#b3b3b3" stroke-width="1.0"/>
<text transform="translate(569.71,645.6) rotate(-45)" x="0" y="0" font-size="9.4" fill="#464646" text-anchor="end" dy="6.0" letter-spacing="0.3">2–3</text>
<line x1="580.27" y1="639.3" x2="580.27" y2="642.6" stroke="#b3b3b3" stroke-width="1.0"/>
<text transform="translate(580.47,645.6) rotate(-45)" x="0" y="0" font-size="9.4" fill="#464646" text-anchor="end" dy="6.0" letter-spacing="0.3">4–5</text>
<line x1="591.02" y1="639.3" x2="591.02" y2="642.6" stroke="#b3b3b3" stroke-width="1.0"/>
<text transform="translate(591.22,645.6) rotate(-45)" x="0" y="0" font-size="9.4" fill="#464646" text-anchor="end" dy="6.0" letter-spacing="0.3">6–7</text>
<line x1="601.78" y1="639.3" x2="601.78" y2="642.6" stroke="#b3b3b3" stroke-width="1.0"/>
<text transform="translate(601.98,645.6) rotate(-45)" x="0" y="0" font-size="9.4" fill="#464646" text-anchor="end" dy="6.0" letter-spacing="0.3">8–9</text>
<line x1="612.53" y1="639.3" x2="612.53" y2="642.6" stroke="#b3b3b3" stroke-width="1.0"/>
<text transform="translate(612.73,645.6) rotate(-45)" x="0" y="0" font-size="9.4" fill="#464646" text-anchor="end" dy="6.0" letter-spacing="0.3">10–11</text>
<line x1="623.28" y1="639.3" x2="623.28" y2="642.6" stroke="#b3b3b3" stroke-width="1.0"/>
<text transform="translate(623.48,645.6) rotate(-45)" x="0" y="0" font-size="9.4" fill="#464646" text-anchor="end" dy="6.0" letter-spacing="0.3">12–13</text>
<line x1="634.04" y1="639.3" x2="634.04" y2="642.6" stroke="#b3b3b3" stroke-width="1.0"/>
<text transform="translate(634.24,645.6) rotate(-45)" x="0" y="0" font-size="9.4" fill="#464646" text-anchor="end" dy="6.0" letter-spacing="0.3">14–15</text>
<line x1="644.79" y1="639.3" x2="644.79" y2="642.6" stroke="#b3b3b3" stroke-width="1.0"/>
<text transform="translate(644.99,645.6) rotate(-45)" x="0" y="0" font-size="9.4" fill="#464646" text-anchor="end" dy="6.0" letter-spacing="0.3">16–17</text>
<line x1="655.55" y1="639.3" x2="655.55" y2="642.6" stroke="#b3b3b3" stroke-width="1.0"/>
<text transform="translate(655.75,645.6) rotate(-45)" x="0" y="0" font-size="9.4" fill="#464646" text-anchor="end" dy="6.0" letter-spacing="0.3">18–19</text>
<line x1="666.3" y1="639.3" x2="666.3" y2="642.6" stroke="#b3b3b3" stroke-width="1.0"/>
<text transform="translate(666.5,645.6) rotate(-45)" x="0" y="0" font-size="9.4" fill="#464646" text-anchor="end" dy="6.0" letter-spacing="0.3">20–21</text>
<line x1="677.06" y1="639.3" x2="677.06" y2="642.6" stroke="#b3b3b3" stroke-width="1.0"/>
<text transform="translate(677.26,645.6) rotate(-45)" x="0" y="0" font-size="9.4" fill="#464646" text-anchor="end" dy="6.0" letter-spacing="0.3">22–23</text>
<text x="0.9" y="13.7" font-size="15.3" font-weight="bold" fill="#000">A</text>
<text x="1.1" y="244.6" font-size="15.3" font-weight="bold" fill="#000">B</text>
<text x="1.0" y="475.1" font-size="15.3" font-weight="bold" fill="#000">C</text>
<text transform="translate(9.7,108.14) rotate(-90)" font-size="11.7" fill="#000" text-anchor="middle">Probability of</text>
<text transform="translate(22.6,108.14) rotate(-90)" font-size="11.7" fill="#000" text-anchor="middle">value preference</text>
<text transform="translate(9.7,318.17) rotate(-90)" font-size="11.7" fill="#000" text-anchor="middle">Probability of</text>
<text transform="translate(22.6,318.17) rotate(-90)" font-size="11.7" fill="#000" text-anchor="middle">value preference</text>
<text transform="translate(9.7,561.62) rotate(-90)" font-size="11.7" fill="#000" text-anchor="middle">Probability of</text>
<text transform="translate(22.6,561.62) rotate(-90)" font-size="11.7" fill="#000" text-anchor="middle">value preference</text>
<text x="368.1" y="220.1" font-size="11.7" fill="#000" text-anchor="middle">Age, years</text>
<text x="368.3" y="408.9" font-size="11.7" fill="#000" text-anchor="middle">Year</text>
<text x="368.2" y="682.1" font-size="11.7" fill="#000" text-anchor="middle">Hours of day</text>
<text x="321.2" y="442.5" font-size="11.7" fill="#000">Sex</text>
<rect x="347.3" y="430.1" width="17.1" height="16.6" fill="#4E79A7" fill-opacity="0.2"/>
<line x1="348.2" y1="438.4" x2="363.5" y2="438.4" stroke="#4E79A7" stroke-width="1.1"/>
<text x="371.5" y="441.7" font-size="9.4" fill="#000">F</text>
<rect x="383.8" y="430.1" width="17.1" height="16.6" fill="#F28E2B" fill-opacity="0.2"/>
<line x1="384.7" y1="438.4" x2="400" y2="438.4" stroke="#F28E2B" stroke-width="1.1"/>
<text x="407.2" y="441.7" font-size="9.4" fill="#000">M</text>
</svg>
</div></body></html>
